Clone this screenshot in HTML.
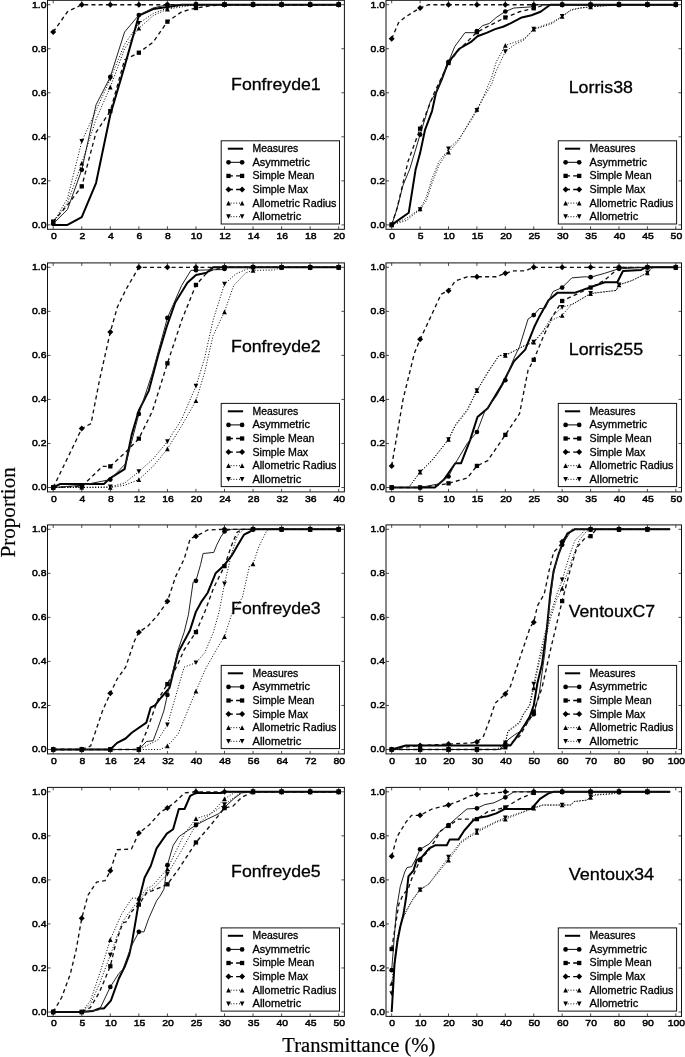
<!DOCTYPE html>
<html><head><meta charset="utf-8"><style>html,body{margin:0;padding:0;background:#fff;width:685px;height:1057px;overflow:hidden}</style></head>
<body><div style="position:relative;width:685px;height:1057px;will-change:transform"><svg width="685" height="1057" viewBox="0 0 685 1057" style="position:absolute;left:0;top:0">
<style>text{font-family:"Liberation Sans",sans-serif;stroke:#000;stroke-width:0.3px}g.tk text{stroke-width:0.5px}text.serif{font-family:"Liberation Serif",serif;stroke-width:0.2px}</style>
<g><clipPath id="clipFonfreyde1"><rect x="47.5" y="0.3" width="296.9" height="229.0"/></clipPath><g clip-path="url(#clipFonfreyde1)"><polyline points="53.21,224.9 67.48,224.9 81.76,217.19 96.03,183.06 110.31,114.8 124.58,66.36 138.85,15.71 153.13,9.11 167.4,6.91 181.68,4.7 195.95,4.7 210.22,4.7 224.5,4.7 238.77,4.7 253.05,4.7 267.32,4.7 281.59,4.7 295.87,4.7 310.14,4.7 324.42,4.7 338.69,4.7" fill="none" stroke="#000" stroke-width="2.0" stroke-linejoin="round"/><polyline points="53.21,223.8 67.48,209.48 81.76,169.85 96.03,104.89 110.31,76.93 124.58,32.01 138.85,15.05 153.13,8.01 167.4,4.7 181.68,4.7 195.95,4.7 210.22,4.7 224.5,4.7 238.77,4.7 253.05,4.7 267.32,4.7 281.59,4.7 295.87,4.7 310.14,4.7 324.42,4.7 338.69,4.7" fill="none" stroke="#222" stroke-width="1.0" stroke-linejoin="round"/><g fill="#000"><circle cx="53.21" cy="223.8" r="2.35"/><circle cx="81.76" cy="169.85" r="2.35"/><circle cx="110.31" cy="76.93" r="2.35"/><circle cx="138.85" cy="15.05" r="2.35"/><circle cx="167.4" cy="4.7" r="2.35"/><circle cx="195.95" cy="4.7" r="2.35"/><circle cx="224.5" cy="4.7" r="2.35"/><circle cx="253.05" cy="4.7" r="2.35"/><circle cx="281.59" cy="4.7" r="2.35"/><circle cx="310.14" cy="4.7" r="2.35"/><circle cx="338.69" cy="4.7" r="2.35"/></g><polyline points="53.21,221.59 67.48,205.08 81.76,186.36 96.03,132.42 110.31,111.06 124.58,59.75 138.85,52.71 153.13,42.14 167.4,21.66 181.68,11.75 195.95,8.01 210.22,5.8 224.5,4.7 238.77,4.7 253.05,4.7 267.32,4.7 281.59,4.7 295.87,4.7 310.14,4.7 324.42,4.7 338.69,4.7" fill="none" stroke="#111" stroke-width="1.35" stroke-dasharray="4 3.2" stroke-linejoin="round"/><g fill="#000"><rect x="51.06" y="219.44" width="4.3" height="4.3"/><rect x="79.61" y="184.21" width="4.3" height="4.3"/><rect x="108.16" y="108.91" width="4.3" height="4.3"/><rect x="136.7" y="50.56" width="4.3" height="4.3"/><rect x="165.25" y="19.51" width="4.3" height="4.3"/><rect x="193.8" y="5.86" width="4.3" height="4.3"/><rect x="222.35" y="2.55" width="4.3" height="4.3"/><rect x="250.9" y="2.55" width="4.3" height="4.3"/><rect x="279.44" y="2.55" width="4.3" height="4.3"/><rect x="307.99" y="2.55" width="4.3" height="4.3"/><rect x="336.54" y="2.55" width="4.3" height="4.3"/></g><polyline points="53.21,32.01 67.48,11.75 81.76,4.7 96.03,4.7 110.31,4.7 124.58,4.7 138.85,4.7 153.13,4.7 167.4,4.7 181.68,4.7 195.95,4.7 210.22,4.7 224.5,4.7 238.77,4.7 253.05,4.7 267.32,4.7 281.59,4.7 295.87,4.7 310.14,4.7 324.42,4.7 338.69,4.7" fill="none" stroke="#111" stroke-width="1.35" stroke-dasharray="4 3.2" stroke-linejoin="round"/><g fill="#000"><path d="M53.21 29.01L56.21 32.01L53.21 35.01L50.21 32.01Z"/><path d="M81.76 1.7L84.76 4.7L81.76 7.7L78.76 4.7Z"/><path d="M110.31 1.7L113.31 4.7L110.31 7.7L107.31 4.7Z"/><path d="M138.85 1.7L141.85 4.7L138.85 7.7L135.85 4.7Z"/><path d="M167.4 1.7L170.4 4.7L167.4 7.7L164.4 4.7Z"/><path d="M195.95 1.7L198.95 4.7L195.95 7.7L192.95 4.7Z"/><path d="M224.5 1.7L227.5 4.7L224.5 7.7L221.5 4.7Z"/><path d="M253.05 1.7L256.05 4.7L253.05 7.7L250.05 4.7Z"/><path d="M281.59 1.7L284.59 4.7L281.59 7.7L278.59 4.7Z"/><path d="M310.14 1.7L313.14 4.7L310.14 7.7L307.14 4.7Z"/><path d="M338.69 1.7L341.69 4.7L338.69 7.7L335.69 4.7Z"/></g><polyline points="53.21,222.69 67.48,202.88 81.76,163.24 96.03,119.2 110.31,87.06 124.58,48.74 138.85,28.26 153.13,15.71 167.4,9.11 181.68,6.91 195.95,4.7 210.22,4.7 224.5,4.7 238.77,4.7 253.05,4.7 267.32,4.7 281.59,4.7 295.87,4.7 310.14,4.7 324.42,4.7 338.69,4.7" fill="none" stroke="#000" stroke-width="1.0" stroke-dasharray="1 1.8" stroke-linejoin="round"/><g fill="#000"><path d="M53.21 220.34L55.56 225.04L50.86 225.04Z"/><path d="M81.76 160.89L84.11 165.59L79.41 165.59Z"/><path d="M110.31 84.71L112.66 89.41L107.96 89.41Z"/><path d="M138.85 25.91L141.2 30.61L136.5 30.61Z"/><path d="M167.4 6.76L169.75 11.46L165.05 11.46Z"/><path d="M195.95 2.35L198.3 7.05L193.6 7.05Z"/><path d="M224.5 2.35L226.85 7.05L222.15 7.05Z"/><path d="M253.05 2.35L255.4 7.05L250.7 7.05Z"/><path d="M281.59 2.35L283.94 7.05L279.24 7.05Z"/><path d="M310.14 2.35L312.49 7.05L307.79 7.05Z"/><path d="M338.69 2.35L341.04 7.05L336.34 7.05Z"/></g><polyline points="53.21,222.69 67.48,198.47 81.76,141.44 96.03,110.4 110.31,78.91 124.58,44.34 138.85,23.42 153.13,13.51 167.4,8.01 181.68,5.8 195.95,4.7 210.22,4.7 224.5,4.7 238.77,4.7 253.05,4.7 267.32,4.7 281.59,4.7 295.87,4.7 310.14,4.7 324.42,4.7 338.69,4.7" fill="none" stroke="#000" stroke-width="1.0" stroke-dasharray="1 1.8" stroke-linejoin="round"/><g fill="#000"><path d="M53.21 225.04L55.56 220.34L50.86 220.34Z"/><path d="M81.76 143.79L84.11 139.09L79.41 139.09Z"/><path d="M110.31 81.26L112.66 76.56L107.96 76.56Z"/><path d="M138.85 25.77L141.2 21.07L136.5 21.07Z"/><path d="M167.4 10.36L169.75 5.66L165.05 5.66Z"/><path d="M195.95 7.05L198.3 2.35L193.6 2.35Z"/><path d="M224.5 7.05L226.85 2.35L222.15 2.35Z"/><path d="M253.05 7.05L255.4 2.35L250.7 2.35Z"/><path d="M281.59 7.05L283.94 2.35L279.24 2.35Z"/><path d="M310.14 7.05L312.49 2.35L307.79 2.35Z"/><path d="M338.69 7.05L341.04 2.35L336.34 2.35Z"/></g></g><rect x="47.5" y="0.3" width="296.9" height="229.0" fill="none" stroke="#111" stroke-width="1"/><path d="M53.21 229.3v-3M53.21 0.3v3M81.76 229.3v-3M81.76 0.3v3M110.31 229.3v-3M110.31 0.3v3M138.85 229.3v-3M138.85 0.3v3M167.4 229.3v-3M167.4 0.3v3M195.95 229.3v-3M195.95 0.3v3M224.5 229.3v-3M224.5 0.3v3M253.05 229.3v-3M253.05 0.3v3M281.59 229.3v-3M281.59 0.3v3M310.14 229.3v-3M310.14 0.3v3M338.69 229.3v-3M338.69 0.3v3M47.5 224.9h3M344.4 224.9h-3M47.5 180.86h3M344.4 180.86h-3M47.5 136.82h3M344.4 136.82h-3M47.5 92.78h3M344.4 92.78h-3M47.5 48.74h3M344.4 48.74h-3M47.5 4.7h3M344.4 4.7h-3" stroke="#222" stroke-width="0.8" fill="none"/><g font-size="9.9" fill="#000" class="tk"><text x="53.81" y="239.1" text-anchor="middle" textLength="5.79" lengthAdjust="spacingAndGlyphs">0</text><text x="82.36" y="239.1" text-anchor="middle" textLength="5.79" lengthAdjust="spacingAndGlyphs">2</text><text x="110.91" y="239.1" text-anchor="middle" textLength="5.79" lengthAdjust="spacingAndGlyphs">4</text><text x="139.45" y="239.1" text-anchor="middle" textLength="5.79" lengthAdjust="spacingAndGlyphs">6</text><text x="168" y="239.1" text-anchor="middle" textLength="5.79" lengthAdjust="spacingAndGlyphs">8</text><text x="196.55" y="239.1" text-anchor="middle" textLength="11.58" lengthAdjust="spacingAndGlyphs">10</text><text x="225.1" y="239.1" text-anchor="middle" textLength="11.58" lengthAdjust="spacingAndGlyphs">12</text><text x="253.65" y="239.1" text-anchor="middle" textLength="11.58" lengthAdjust="spacingAndGlyphs">14</text><text x="282.19" y="239.1" text-anchor="middle" textLength="11.58" lengthAdjust="spacingAndGlyphs">16</text><text x="310.74" y="239.1" text-anchor="middle" textLength="11.58" lengthAdjust="spacingAndGlyphs">18</text><text x="339.29" y="239.1" text-anchor="middle" textLength="11.58" lengthAdjust="spacingAndGlyphs">20</text><text x="46.5" y="227.7" text-anchor="end" textLength="14.47" lengthAdjust="spacingAndGlyphs">0.0</text><text x="46.5" y="183.66" text-anchor="end" textLength="14.47" lengthAdjust="spacingAndGlyphs">0.2</text><text x="46.5" y="139.62" text-anchor="end" textLength="14.47" lengthAdjust="spacingAndGlyphs">0.4</text><text x="46.5" y="95.58" text-anchor="end" textLength="14.47" lengthAdjust="spacingAndGlyphs">0.6</text><text x="46.5" y="51.54" text-anchor="end" textLength="14.47" lengthAdjust="spacingAndGlyphs">0.8</text><text x="46.5" y="7.5" text-anchor="end" textLength="14.47" lengthAdjust="spacingAndGlyphs">1.0</text></g><text x="231.09" y="89.5" font-size="16.6" fill="#000" textLength="89.63" lengthAdjust="spacingAndGlyphs">Fonfreyde1</text><rect x="221.2" y="140.8" width="118.3" height="83.2" fill="#fff" stroke="#111" stroke-width="1"/><path d="M227.8 148.7H243.1" stroke="#000" stroke-width="2.0"/><text x="252.5" y="152.1" font-size="10.3" fill="#000" textLength="45.8" lengthAdjust="spacingAndGlyphs">Measures</text><path d="M227.8 162.3H243.1" stroke="#000" stroke-width="1.0"/><g fill="#000"><circle cx="228.5" cy="162.3" r="2.35"/><circle cx="242.1" cy="162.3" r="2.35"/></g><text x="252.5" y="165.7" font-size="10.3" fill="#000" textLength="57.52" lengthAdjust="spacingAndGlyphs">Asymmetric</text><path d="M227.8 175.9H243.1" stroke="#000" stroke-width="1.35" stroke-dasharray="4 3.2" stroke-dashoffset="6.1"/><g fill="#000"><rect x="226.35" y="173.75" width="4.3" height="4.3"/><rect x="239.95" y="173.75" width="4.3" height="4.3"/></g><text x="252.5" y="179.3" font-size="10.3" fill="#000" textLength="61.99" lengthAdjust="spacingAndGlyphs">Simple Mean</text><path d="M227.8 189.5H243.1" stroke="#000" stroke-width="1.35" stroke-dasharray="4 3.2" stroke-dashoffset="6.1"/><g fill="#000"><path d="M228.5 186.5L231.5 189.5L228.5 192.5L225.5 189.5Z"/><path d="M242.1 186.5L245.1 189.5L242.1 192.5L239.1 189.5Z"/></g><text x="252.5" y="192.9" font-size="10.3" fill="#000" textLength="55.68" lengthAdjust="spacingAndGlyphs">Simple Max</text><path d="M227.8 203.1H243.1" stroke="#000" stroke-width="1.0" stroke-dasharray="1 1.8"/><g fill="#000"><path d="M228.5 200.75L230.85 205.45L226.15 205.45Z"/><path d="M242.1 200.75L244.45 205.45L239.75 205.45Z"/></g><text x="252.5" y="206.5" font-size="10.3" fill="#000" textLength="83.93" lengthAdjust="spacingAndGlyphs">Allometric Radius</text><path d="M227.8 216.7H243.1" stroke="#000" stroke-width="1.0" stroke-dasharray="1 1.8"/><g fill="#000"><path d="M228.5 219.05L230.85 214.35L226.15 214.35Z"/><path d="M242.1 219.05L244.45 214.35L239.75 214.35Z"/></g><text x="252.5" y="220.1" font-size="10.3" fill="#000" textLength="48.69" lengthAdjust="spacingAndGlyphs">Allometric</text></g>
<g><clipPath id="clipLorris38"><rect x="386.0" y="0.3" width="295.5" height="229.0"/></clipPath><g clip-path="url(#clipLorris38)"><polyline points="391.68,224.9 408.73,212.79 415.55,169.85 420.1,153.11 424.93,130.21 432.03,111.06 436.01,92.78 441.69,79.57 447.94,62.83 459.31,48.74 470.67,42.14 477.49,36.19 487.15,32.67 495.11,29.15 503.06,26.72 510.45,23.42 521.82,17.48 531.48,15.27 540.57,11.75 550.23,4.7 675.82,4.7" fill="none" stroke="#000" stroke-width="2.0" stroke-linejoin="round"/><polyline points="391.68,224.9 396.8,209.48 403.05,185.26 409.87,168.75 420.1,134.62 430.32,101.59 436.01,92.78 448.51,61.95 454.76,46.54 464.99,32.67 475.22,32.67 482.61,25.62 489.43,23.42 496.24,17.48 504.77,11.75 513.86,8.01 530.91,6.91 536.59,4.7 675.82,4.7" fill="none" stroke="#222" stroke-width="1.0" stroke-linejoin="round"/><g fill="#000"><circle cx="391.68" cy="224.9" r="2.35"/><circle cx="420.1" cy="134.62" r="2.35"/><circle cx="448.51" cy="61.95" r="2.35"/><circle cx="476.92" cy="31.04" r="2.35"/><circle cx="505.34" cy="11.52" r="2.35"/><circle cx="533.75" cy="5.8" r="2.35"/><circle cx="562.16" cy="4.7" r="2.35"/><circle cx="590.58" cy="4.7" r="2.35"/><circle cx="618.99" cy="4.7" r="2.35"/><circle cx="647.4" cy="4.7" r="2.35"/><circle cx="675.82" cy="4.7" r="2.35"/></g><polyline points="391.68,224.9 397.37,207.28 408.16,161.04 420.1,128.67 434.3,92.78 448.51,63.05 459.88,48.74 476.92,32.23 489.43,25.62 505.34,17.48 519.54,11.75 533.75,8.23 545.12,4.7 675.82,4.7" fill="none" stroke="#111" stroke-width="1.35" stroke-dasharray="4 3.2" stroke-linejoin="round"/><g fill="#000"><rect x="389.53" y="222.75" width="4.3" height="4.3"/><rect x="417.95" y="126.52" width="4.3" height="4.3"/><rect x="446.36" y="60.9" width="4.3" height="4.3"/><rect x="474.77" y="30.08" width="4.3" height="4.3"/><rect x="503.19" y="15.33" width="4.3" height="4.3"/><rect x="531.6" y="6.08" width="4.3" height="4.3"/><rect x="560.01" y="2.55" width="4.3" height="4.3"/><rect x="588.43" y="2.55" width="4.3" height="4.3"/><rect x="616.84" y="2.55" width="4.3" height="4.3"/><rect x="645.25" y="2.55" width="4.3" height="4.3"/><rect x="673.67" y="2.55" width="4.3" height="4.3"/></g><polyline points="391.68,38.83 398.5,22.76 404.75,17.48 411.57,13.07 420.1,8.01 428.62,4.7 675.82,4.7" fill="none" stroke="#111" stroke-width="1.35" stroke-dasharray="4 3.2" stroke-linejoin="round"/><g fill="#000"><path d="M391.68 35.83L394.68 38.83L391.68 41.83L388.68 38.83Z"/><path d="M420.1 5.01L423.1 8.01L420.1 11.01L417.1 8.01Z"/><path d="M448.51 1.7L451.51 4.7L448.51 7.7L445.51 4.7Z"/><path d="M476.92 1.7L479.92 4.7L476.92 7.7L473.92 4.7Z"/><path d="M505.34 1.7L508.34 4.7L505.34 7.7L502.34 4.7Z"/><path d="M533.75 1.7L536.75 4.7L533.75 7.7L530.75 4.7Z"/><path d="M562.16 1.7L565.16 4.7L562.16 7.7L559.16 4.7Z"/><path d="M590.58 1.7L593.58 4.7L590.58 7.7L587.58 4.7Z"/><path d="M618.99 1.7L621.99 4.7L618.99 7.7L615.99 4.7Z"/><path d="M647.4 1.7L650.4 4.7L647.4 7.7L644.4 4.7Z"/><path d="M675.82 1.7L678.82 4.7L675.82 7.7L672.82 4.7Z"/></g><polyline points="391.68,224.9 406.46,218.29 420.1,208.82 426.35,196.93 432.03,178.66 438.85,161.7 444.53,154.43 448.51,152.23 458.74,140.56 470.67,119.2 476.92,109.52 482.61,98.29 491.7,77.37 496.24,61.95 505.34,45.44 515,42.14 524.09,38.83 533.75,29.15 542.84,25.62 552.5,22.1 562.16,16.37 571.26,9.55 580.35,8.01 590.58,6.91 618.99,4.7 675.82,4.7" fill="none" stroke="#000" stroke-width="1.0" stroke-dasharray="1 1.8" stroke-linejoin="round"/><g fill="#000"><path d="M391.68 222.55L394.03 227.25L389.33 227.25Z"/><path d="M420.1 206.47L422.45 211.17L417.75 211.17Z"/><path d="M448.51 149.88L450.86 154.58L446.16 154.58Z"/><path d="M476.92 107.17L479.27 111.87L474.57 111.87Z"/><path d="M505.34 43.09L507.69 47.79L502.99 47.79Z"/><path d="M533.75 26.8L536.1 31.5L531.4 31.5Z"/><path d="M562.16 14.02L564.51 18.72L559.81 18.72Z"/><path d="M590.58 4.56L592.93 9.26L588.23 9.26Z"/><path d="M618.99 2.35L621.34 7.05L616.64 7.05Z"/><path d="M647.4 2.35L649.75 7.05L645.05 7.05Z"/><path d="M675.82 2.35L678.17 7.05L673.47 7.05Z"/></g><polyline points="391.68,224.9 406.46,220.49 420.1,209.48 426.35,200.68 432.03,183.06 438.85,165.44 444.53,156.64 448.51,148.93 458.74,139.02 470.67,121.41 476.92,110.4 482.61,99.39 491.7,83.97 496.24,70.76 505.34,51.6 515,44.34 524.09,39.93 533.75,29.15 542.84,26.72 552.5,23.42 562.16,16.37 571.26,10.21 580.35,8.01 590.58,6.91 618.99,4.7 675.82,4.7" fill="none" stroke="#000" stroke-width="1.0" stroke-dasharray="1 1.8" stroke-linejoin="round"/><g fill="#000"><path d="M391.68 227.25L394.03 222.55L389.33 222.55Z"/><path d="M420.1 211.83L422.45 207.13L417.75 207.13Z"/><path d="M448.51 151.28L450.86 146.58L446.16 146.58Z"/><path d="M476.92 112.75L479.27 108.05L474.57 108.05Z"/><path d="M505.34 53.95L507.69 49.25L502.99 49.25Z"/><path d="M533.75 31.5L536.1 26.8L531.4 26.8Z"/><path d="M562.16 18.72L564.51 14.02L559.81 14.02Z"/><path d="M590.58 9.26L592.93 4.56L588.23 4.56Z"/><path d="M618.99 7.05L621.34 2.35L616.64 2.35Z"/><path d="M647.4 7.05L649.75 2.35L645.05 2.35Z"/><path d="M675.82 7.05L678.17 2.35L673.47 2.35Z"/></g></g><rect x="386.0" y="0.3" width="295.5" height="229.0" fill="none" stroke="#111" stroke-width="1"/><path d="M391.68 229.3v-3M391.68 0.3v3M420.1 229.3v-3M420.1 0.3v3M448.51 229.3v-3M448.51 0.3v3M476.92 229.3v-3M476.92 0.3v3M505.34 229.3v-3M505.34 0.3v3M533.75 229.3v-3M533.75 0.3v3M562.16 229.3v-3M562.16 0.3v3M590.58 229.3v-3M590.58 0.3v3M618.99 229.3v-3M618.99 0.3v3M647.4 229.3v-3M647.4 0.3v3M675.82 229.3v-3M675.82 0.3v3M386.0 224.9h3M681.5 224.9h-3M386.0 180.86h3M681.5 180.86h-3M386.0 136.82h3M681.5 136.82h-3M386.0 92.78h3M681.5 92.78h-3M386.0 48.74h3M681.5 48.74h-3M386.0 4.7h3M681.5 4.7h-3" stroke="#222" stroke-width="0.8" fill="none"/><g font-size="9.9" fill="#000" class="tk"><text x="392.28" y="239.1" text-anchor="middle" textLength="5.79" lengthAdjust="spacingAndGlyphs">0</text><text x="420.7" y="239.1" text-anchor="middle" textLength="5.79" lengthAdjust="spacingAndGlyphs">5</text><text x="449.11" y="239.1" text-anchor="middle" textLength="11.58" lengthAdjust="spacingAndGlyphs">10</text><text x="477.52" y="239.1" text-anchor="middle" textLength="11.58" lengthAdjust="spacingAndGlyphs">15</text><text x="505.94" y="239.1" text-anchor="middle" textLength="11.58" lengthAdjust="spacingAndGlyphs">20</text><text x="534.35" y="239.1" text-anchor="middle" textLength="11.58" lengthAdjust="spacingAndGlyphs">25</text><text x="562.76" y="239.1" text-anchor="middle" textLength="11.58" lengthAdjust="spacingAndGlyphs">30</text><text x="591.18" y="239.1" text-anchor="middle" textLength="11.58" lengthAdjust="spacingAndGlyphs">35</text><text x="619.59" y="239.1" text-anchor="middle" textLength="11.58" lengthAdjust="spacingAndGlyphs">40</text><text x="648" y="239.1" text-anchor="middle" textLength="11.58" lengthAdjust="spacingAndGlyphs">45</text><text x="676.42" y="239.1" text-anchor="middle" textLength="11.58" lengthAdjust="spacingAndGlyphs">50</text><text x="385" y="227.7" text-anchor="end" textLength="14.47" lengthAdjust="spacingAndGlyphs">0.0</text><text x="385" y="183.66" text-anchor="end" textLength="14.47" lengthAdjust="spacingAndGlyphs">0.2</text><text x="385" y="139.62" text-anchor="end" textLength="14.47" lengthAdjust="spacingAndGlyphs">0.4</text><text x="385" y="95.58" text-anchor="end" textLength="14.47" lengthAdjust="spacingAndGlyphs">0.6</text><text x="385" y="51.54" text-anchor="end" textLength="14.47" lengthAdjust="spacingAndGlyphs">0.8</text><text x="385" y="7.5" text-anchor="end" textLength="14.47" lengthAdjust="spacingAndGlyphs">1.0</text></g><text x="568.72" y="92.7" font-size="16.6" fill="#000" textLength="64.24" lengthAdjust="spacingAndGlyphs">Lorris38</text><rect x="558.3" y="140.8" width="118.3" height="83.2" fill="#fff" stroke="#111" stroke-width="1"/><path d="M564.9 148.7H580.2" stroke="#000" stroke-width="2.0"/><text x="589.6" y="152.1" font-size="10.3" fill="#000" textLength="45.8" lengthAdjust="spacingAndGlyphs">Measures</text><path d="M564.9 162.3H580.2" stroke="#000" stroke-width="1.0"/><g fill="#000"><circle cx="565.6" cy="162.3" r="2.35"/><circle cx="579.2" cy="162.3" r="2.35"/></g><text x="589.6" y="165.7" font-size="10.3" fill="#000" textLength="57.52" lengthAdjust="spacingAndGlyphs">Asymmetric</text><path d="M564.9 175.9H580.2" stroke="#000" stroke-width="1.35" stroke-dasharray="4 3.2" stroke-dashoffset="6.1"/><g fill="#000"><rect x="563.45" y="173.75" width="4.3" height="4.3"/><rect x="577.05" y="173.75" width="4.3" height="4.3"/></g><text x="589.6" y="179.3" font-size="10.3" fill="#000" textLength="61.99" lengthAdjust="spacingAndGlyphs">Simple Mean</text><path d="M564.9 189.5H580.2" stroke="#000" stroke-width="1.35" stroke-dasharray="4 3.2" stroke-dashoffset="6.1"/><g fill="#000"><path d="M565.6 186.5L568.6 189.5L565.6 192.5L562.6 189.5Z"/><path d="M579.2 186.5L582.2 189.5L579.2 192.5L576.2 189.5Z"/></g><text x="589.6" y="192.9" font-size="10.3" fill="#000" textLength="55.68" lengthAdjust="spacingAndGlyphs">Simple Max</text><path d="M564.9 203.1H580.2" stroke="#000" stroke-width="1.0" stroke-dasharray="1 1.8"/><g fill="#000"><path d="M565.6 200.75L567.95 205.45L563.25 205.45Z"/><path d="M579.2 200.75L581.55 205.45L576.85 205.45Z"/></g><text x="589.6" y="206.5" font-size="10.3" fill="#000" textLength="83.93" lengthAdjust="spacingAndGlyphs">Allometric Radius</text><path d="M564.9 216.7H580.2" stroke="#000" stroke-width="1.0" stroke-dasharray="1 1.8"/><g fill="#000"><path d="M565.6 219.05L567.95 214.35L563.25 214.35Z"/><path d="M579.2 219.05L581.55 214.35L576.85 214.35Z"/></g><text x="589.6" y="220.1" font-size="10.3" fill="#000" textLength="48.69" lengthAdjust="spacingAndGlyphs">Allometric</text></g>
<g><clipPath id="clipFonfreyde2"><rect x="47.5" y="262.9" width="296.9" height="229.0"/></clipPath><g clip-path="url(#clipFonfreyde2)"><polyline points="53.21,487.5 60.35,483.97 103.88,483.97 110.31,478.03 124.58,469.22 131.72,434.65 138.85,410.43 148.85,390.61 158.12,355.38 166.69,326.76 175.25,302.53 187.39,282.72 195.95,275.01 206.66,272.81 213.08,267.3 338.69,267.3" fill="none" stroke="#000" stroke-width="2.0" stroke-linejoin="round"/><polyline points="53.21,487.5 81.76,485.29 110.31,479.57 126.01,463.27 138.85,413.95 152.41,373 167.4,317.95 181.68,285.36 190.95,270.39 223.78,269.51 226.64,267.3 338.69,267.3" fill="none" stroke="#222" stroke-width="1.0" stroke-linejoin="round"/><g fill="#000"><circle cx="53.21" cy="487.5" r="2.35"/><circle cx="81.76" cy="485.29" r="2.35"/><circle cx="110.31" cy="479.57" r="2.35"/><circle cx="138.85" cy="413.95" r="2.35"/><circle cx="167.4" cy="317.95" r="2.35"/><circle cx="195.95" cy="270.25" r="2.35"/><circle cx="224.5" cy="268.96" r="2.35"/><circle cx="253.05" cy="267.3" r="2.35"/><circle cx="281.59" cy="267.3" r="2.35"/><circle cx="310.14" cy="267.3" r="2.35"/><circle cx="338.69" cy="267.3" r="2.35"/></g><polyline points="53.21,487.5 81.76,486.4 102.46,466.36 110.31,466.36 126.01,451.82 138.85,438.61 152.41,411.09 167.4,363.31 181.68,320.37 195.95,284.92 205.94,273.91 210.22,270.83 224.5,267.3 338.69,267.3" fill="none" stroke="#111" stroke-width="1.35" stroke-dasharray="4 3.2" stroke-linejoin="round"/><g fill="#000"><rect x="51.06" y="485.35" width="4.3" height="4.3"/><rect x="79.61" y="484.25" width="4.3" height="4.3"/><rect x="108.16" y="464.21" width="4.3" height="4.3"/><rect x="136.7" y="436.46" width="4.3" height="4.3"/><rect x="165.25" y="361.16" width="4.3" height="4.3"/><rect x="193.8" y="282.77" width="4.3" height="4.3"/><rect x="222.35" y="265.15" width="4.3" height="4.3"/><rect x="250.9" y="265.15" width="4.3" height="4.3"/><rect x="279.44" y="265.15" width="4.3" height="4.3"/><rect x="307.99" y="265.15" width="4.3" height="4.3"/><rect x="336.54" y="265.15" width="4.3" height="4.3"/></g><polyline points="53.21,487.5 74.62,443.46 81.76,428.48 91.04,423.64 99.6,379.6 110.31,332.04 117.44,306.94 126.01,289.32 138.85,267.3 338.69,267.3" fill="none" stroke="#111" stroke-width="1.35" stroke-dasharray="4 3.2" stroke-linejoin="round"/><g fill="#000"><path d="M53.21 484.5L56.21 487.5L53.21 490.5L50.21 487.5Z"/><path d="M81.76 425.48L84.76 428.48L81.76 431.48L78.76 428.48Z"/><path d="M110.31 329.04L113.31 332.04L110.31 335.04L107.31 332.04Z"/><path d="M138.85 264.3L141.85 267.3L138.85 270.3L135.85 267.3Z"/><path d="M167.4 264.3L170.4 267.3L167.4 270.3L164.4 267.3Z"/><path d="M195.95 264.3L198.95 267.3L195.95 270.3L192.95 267.3Z"/><path d="M224.5 264.3L227.5 267.3L224.5 270.3L221.5 267.3Z"/><path d="M253.05 264.3L256.05 267.3L253.05 270.3L250.05 267.3Z"/><path d="M281.59 264.3L284.59 267.3L281.59 270.3L278.59 267.3Z"/><path d="M310.14 264.3L313.14 267.3L310.14 270.3L307.14 267.3Z"/><path d="M338.69 264.3L341.69 267.3L338.69 270.3L335.69 267.3Z"/></g><polyline points="53.21,487.5 110.31,487.5 124.58,485.29 138.85,479.57 153.13,466.36 167.4,448.96 181.68,425.84 195.95,400.74 204.51,373 213.08,335.56 224.5,311.78 233.78,285.36 245.91,272.81 253.05,270.39 274.46,269.95 281.59,267.3 338.69,267.3" fill="none" stroke="#000" stroke-width="1.0" stroke-dasharray="1 1.8" stroke-linejoin="round"/><g fill="#000"><path d="M53.21 485.15L55.56 489.85L50.86 489.85Z"/><path d="M81.76 485.15L84.11 489.85L79.41 489.85Z"/><path d="M110.31 485.15L112.66 489.85L107.96 489.85Z"/><path d="M138.85 477.22L141.2 481.92L136.5 481.92Z"/><path d="M167.4 446.61L169.75 451.31L165.05 451.31Z"/><path d="M195.95 398.39L198.3 403.09L193.6 403.09Z"/><path d="M224.5 309.43L226.85 314.13L222.15 314.13Z"/><path d="M253.05 268.04L255.4 272.74L250.7 272.74Z"/><path d="M281.59 264.95L283.94 269.65L279.24 269.65Z"/><path d="M310.14 264.95L312.49 269.65L307.79 269.65Z"/><path d="M338.69 264.95L341.04 269.65L336.34 269.65Z"/></g><polyline points="53.21,487.5 110.31,486.84 124.58,483.09 138.85,471.64 153.13,458.87 167.4,441.7 181.68,419.24 195.95,386.21 204.51,358.46 213.08,320.15 224.5,284.04 235.92,273.91 245.91,269.51 253.05,267.3 338.69,267.3" fill="none" stroke="#000" stroke-width="1.0" stroke-dasharray="1 1.8" stroke-linejoin="round"/><g fill="#000"><path d="M53.21 489.85L55.56 485.15L50.86 485.15Z"/><path d="M81.76 489.52L84.11 484.82L79.41 484.82Z"/><path d="M110.31 489.19L112.66 484.49L107.96 484.49Z"/><path d="M138.85 473.99L141.2 469.29L136.5 469.29Z"/><path d="M167.4 444.05L169.75 439.35L165.05 439.35Z"/><path d="M195.95 388.56L198.3 383.86L193.6 383.86Z"/><path d="M224.5 286.39L226.85 281.69L222.15 281.69Z"/><path d="M253.05 269.65L255.4 264.95L250.7 264.95Z"/><path d="M281.59 269.65L283.94 264.95L279.24 264.95Z"/><path d="M310.14 269.65L312.49 264.95L307.79 264.95Z"/><path d="M338.69 269.65L341.04 264.95L336.34 264.95Z"/></g></g><rect x="47.5" y="262.9" width="296.9" height="229.0" fill="none" stroke="#111" stroke-width="1"/><path d="M53.21 491.9v-3M53.21 262.9v3M81.76 491.9v-3M81.76 262.9v3M110.31 491.9v-3M110.31 262.9v3M138.85 491.9v-3M138.85 262.9v3M167.4 491.9v-3M167.4 262.9v3M195.95 491.9v-3M195.95 262.9v3M224.5 491.9v-3M224.5 262.9v3M253.05 491.9v-3M253.05 262.9v3M281.59 491.9v-3M281.59 262.9v3M310.14 491.9v-3M310.14 262.9v3M338.69 491.9v-3M338.69 262.9v3M47.5 487.5h3M344.4 487.5h-3M47.5 443.46h3M344.4 443.46h-3M47.5 399.42h3M344.4 399.42h-3M47.5 355.38h3M344.4 355.38h-3M47.5 311.34h3M344.4 311.34h-3M47.5 267.3h3M344.4 267.3h-3" stroke="#222" stroke-width="0.8" fill="none"/><g font-size="9.9" fill="#000" class="tk"><text x="53.81" y="501.7" text-anchor="middle" textLength="5.79" lengthAdjust="spacingAndGlyphs">0</text><text x="82.36" y="501.7" text-anchor="middle" textLength="5.79" lengthAdjust="spacingAndGlyphs">4</text><text x="110.91" y="501.7" text-anchor="middle" textLength="5.79" lengthAdjust="spacingAndGlyphs">8</text><text x="139.45" y="501.7" text-anchor="middle" textLength="11.58" lengthAdjust="spacingAndGlyphs">12</text><text x="168" y="501.7" text-anchor="middle" textLength="11.58" lengthAdjust="spacingAndGlyphs">16</text><text x="196.55" y="501.7" text-anchor="middle" textLength="11.58" lengthAdjust="spacingAndGlyphs">20</text><text x="225.1" y="501.7" text-anchor="middle" textLength="11.58" lengthAdjust="spacingAndGlyphs">24</text><text x="253.65" y="501.7" text-anchor="middle" textLength="11.58" lengthAdjust="spacingAndGlyphs">28</text><text x="282.19" y="501.7" text-anchor="middle" textLength="11.58" lengthAdjust="spacingAndGlyphs">32</text><text x="310.74" y="501.7" text-anchor="middle" textLength="11.58" lengthAdjust="spacingAndGlyphs">36</text><text x="339.29" y="501.7" text-anchor="middle" textLength="11.58" lengthAdjust="spacingAndGlyphs">40</text><text x="46.5" y="490.3" text-anchor="end" textLength="14.47" lengthAdjust="spacingAndGlyphs">0.0</text><text x="46.5" y="446.26" text-anchor="end" textLength="14.47" lengthAdjust="spacingAndGlyphs">0.2</text><text x="46.5" y="402.22" text-anchor="end" textLength="14.47" lengthAdjust="spacingAndGlyphs">0.4</text><text x="46.5" y="358.18" text-anchor="end" textLength="14.47" lengthAdjust="spacingAndGlyphs">0.6</text><text x="46.5" y="314.14" text-anchor="end" textLength="14.47" lengthAdjust="spacingAndGlyphs">0.8</text><text x="46.5" y="270.1" text-anchor="end" textLength="14.47" lengthAdjust="spacingAndGlyphs">1.0</text></g><text x="231.09" y="352.1" font-size="16.6" fill="#000" textLength="89.63" lengthAdjust="spacingAndGlyphs">Fonfreyde2</text><rect x="221.2" y="403.4" width="118.3" height="83.2" fill="#fff" stroke="#111" stroke-width="1"/><path d="M227.8 411.3H243.1" stroke="#000" stroke-width="2.0"/><text x="252.5" y="414.7" font-size="10.3" fill="#000" textLength="45.8" lengthAdjust="spacingAndGlyphs">Measures</text><path d="M227.8 424.9H243.1" stroke="#000" stroke-width="1.0"/><g fill="#000"><circle cx="228.5" cy="424.9" r="2.35"/><circle cx="242.1" cy="424.9" r="2.35"/></g><text x="252.5" y="428.3" font-size="10.3" fill="#000" textLength="57.52" lengthAdjust="spacingAndGlyphs">Asymmetric</text><path d="M227.8 438.5H243.1" stroke="#000" stroke-width="1.35" stroke-dasharray="4 3.2" stroke-dashoffset="6.1"/><g fill="#000"><rect x="226.35" y="436.35" width="4.3" height="4.3"/><rect x="239.95" y="436.35" width="4.3" height="4.3"/></g><text x="252.5" y="441.9" font-size="10.3" fill="#000" textLength="61.99" lengthAdjust="spacingAndGlyphs">Simple Mean</text><path d="M227.8 452.1H243.1" stroke="#000" stroke-width="1.35" stroke-dasharray="4 3.2" stroke-dashoffset="6.1"/><g fill="#000"><path d="M228.5 449.1L231.5 452.1L228.5 455.1L225.5 452.1Z"/><path d="M242.1 449.1L245.1 452.1L242.1 455.1L239.1 452.1Z"/></g><text x="252.5" y="455.5" font-size="10.3" fill="#000" textLength="55.68" lengthAdjust="spacingAndGlyphs">Simple Max</text><path d="M227.8 465.7H243.1" stroke="#000" stroke-width="1.0" stroke-dasharray="1 1.8"/><g fill="#000"><path d="M228.5 463.35L230.85 468.05L226.15 468.05Z"/><path d="M242.1 463.35L244.45 468.05L239.75 468.05Z"/></g><text x="252.5" y="469.1" font-size="10.3" fill="#000" textLength="83.93" lengthAdjust="spacingAndGlyphs">Allometric Radius</text><path d="M227.8 479.3H243.1" stroke="#000" stroke-width="1.0" stroke-dasharray="1 1.8"/><g fill="#000"><path d="M228.5 481.65L230.85 476.95L226.15 476.95Z"/><path d="M242.1 481.65L244.45 476.95L239.75 476.95Z"/></g><text x="252.5" y="482.7" font-size="10.3" fill="#000" textLength="48.69" lengthAdjust="spacingAndGlyphs">Allometric</text></g>
<g><clipPath id="clipLorris255"><rect x="386.0" y="262.9" width="295.5" height="229.0"/></clipPath><g clip-path="url(#clipLorris255)"><polyline points="391.68,487.5 434.87,487.5 443.96,479.57 455.33,463.27 461.01,463.27 470.1,440.15 477.49,417.03 487.72,408.23 501.93,384.67 513.86,361.33 525.23,349.66 534.32,326.76 539.43,316.41 548.52,300.33 557.62,292.63 575.23,292.63 584.33,289.32 604.78,282.28 617.29,282.28 622.97,271.05 641.15,269.95 645.7,267.3 675.82,267.3" fill="none" stroke="#000" stroke-width="2.0" stroke-linejoin="round"/><polyline points="391.68,487.5 420.1,487.5 438.28,483.97 448.51,476.49 455.33,463.27 467.26,443.46 476.92,432.01 484.88,411.09 496.24,396.34 505.34,380.26 513.86,358.46 519.54,346.57 528.07,319.05 533.75,315.09 539.43,308.48 545.12,308.48 553.07,291.52 562.16,287.56 571.82,277.87 584.89,276.77 590.58,277.21 604.78,273.25 618.42,268.85 647.4,267.3 675.82,267.3" fill="none" stroke="#222" stroke-width="1.0" stroke-linejoin="round"/><g fill="#000"><circle cx="391.68" cy="487.5" r="2.35"/><circle cx="420.1" cy="487.5" r="2.35"/><circle cx="448.51" cy="476.49" r="2.35"/><circle cx="476.92" cy="432.01" r="2.35"/><circle cx="505.34" cy="380.26" r="2.35"/><circle cx="533.75" cy="315.09" r="2.35"/><circle cx="562.16" cy="287.56" r="2.35"/><circle cx="590.58" cy="277.21" r="2.35"/><circle cx="618.99" cy="268.81" r="2.35"/><circle cx="647.4" cy="267.3" r="2.35"/><circle cx="675.82" cy="267.3" r="2.35"/></g><polyline points="391.68,487.5 420.1,487.5 438.28,485.29 448.51,483.31 467.26,478.03 476.92,465.92 487.72,460.63 505.34,434.87 519.54,413.73 528.07,370.13 533.75,359.78 542.84,337.77 551.93,317.51 562.16,300.99 575.23,294.83 590.58,287.56 604.78,280.07 618.99,267.74 624.67,267.3 675.82,267.3" fill="none" stroke="#111" stroke-width="1.35" stroke-dasharray="4 3.2" stroke-linejoin="round"/><g fill="#000"><rect x="389.53" y="485.35" width="4.3" height="4.3"/><rect x="417.95" y="485.35" width="4.3" height="4.3"/><rect x="446.36" y="481.16" width="4.3" height="4.3"/><rect x="474.77" y="463.77" width="4.3" height="4.3"/><rect x="503.19" y="432.72" width="4.3" height="4.3"/><rect x="531.6" y="357.63" width="4.3" height="4.3"/><rect x="560.01" y="298.84" width="4.3" height="4.3"/><rect x="588.43" y="285.41" width="4.3" height="4.3"/><rect x="616.84" y="265.59" width="4.3" height="4.3"/><rect x="645.25" y="265.15" width="4.3" height="4.3"/><rect x="673.67" y="265.15" width="4.3" height="4.3"/></g><polyline points="391.68,465.92 403.05,399.42 414.41,353.18 420.1,339.31 429.19,320.15 441.12,294.17 448.51,290.64 455.33,280.96 467.26,276.77 496.24,276.77 505.34,273.25 513.86,270.83 525.23,270.83 533.75,267.3 675.82,267.3" fill="none" stroke="#111" stroke-width="1.35" stroke-dasharray="4 3.2" stroke-linejoin="round"/><g fill="#000"><path d="M391.68 462.92L394.68 465.92L391.68 468.92L388.68 465.92Z"/><path d="M420.1 336.31L423.1 339.31L420.1 342.31L417.1 339.31Z"/><path d="M448.51 287.64L451.51 290.64L448.51 293.64L445.51 290.64Z"/><path d="M476.92 273.77L479.92 276.77L476.92 279.77L473.92 276.77Z"/><path d="M505.34 270.25L508.34 273.25L505.34 276.25L502.34 273.25Z"/><path d="M533.75 264.3L536.75 267.3L533.75 270.3L530.75 267.3Z"/><path d="M562.16 264.3L565.16 267.3L562.16 270.3L559.16 267.3Z"/><path d="M590.58 264.3L593.58 267.3L590.58 270.3L587.58 267.3Z"/><path d="M618.99 264.3L621.99 267.3L618.99 270.3L615.99 267.3Z"/><path d="M647.4 264.3L650.4 267.3L647.4 270.3L644.4 267.3Z"/><path d="M675.82 264.3L678.82 267.3L675.82 270.3L672.82 267.3Z"/></g><polyline points="391.68,487.5 408.73,487.5 420.1,472.08 432.03,460.63 448.51,439.49 455.33,425.84 467.26,410.87 476.92,390.61 487.72,373 499.09,355.38 505.34,355.38 516.7,349.66 525.23,345.25 533.75,342.17 542.84,332.26 551.93,320.15 562.16,315.31 571.26,304.74 590.58,293.73 616.15,290.42 618.99,284.92 632.06,280.52 647.4,272.81 653.09,267.3 675.82,267.3" fill="none" stroke="#000" stroke-width="1.0" stroke-dasharray="1 1.8" stroke-linejoin="round"/><g fill="#000"><path d="M391.68 485.15L394.03 489.85L389.33 489.85Z"/><path d="M420.1 469.73L422.45 474.43L417.75 474.43Z"/><path d="M448.51 437.14L450.86 441.84L446.16 441.84Z"/><path d="M476.92 388.26L479.27 392.96L474.57 392.96Z"/><path d="M505.34 353.03L507.69 357.73L502.99 357.73Z"/><path d="M533.75 339.82L536.1 344.52L531.4 344.52Z"/><path d="M562.16 312.96L564.51 317.66L559.81 317.66Z"/><path d="M590.58 291.38L592.93 296.08L588.23 296.08Z"/><path d="M618.99 282.57L621.34 287.27L616.64 287.27Z"/><path d="M647.4 270.46L649.75 275.16L645.05 275.16Z"/><path d="M675.82 264.95L678.17 269.65L673.47 269.65Z"/></g><polyline points="391.68,487.5 408.73,487.5 420.1,472.08 432.03,459.97 448.51,439.49 455.33,424.74 467.26,409.33 476.92,390.61 487.72,371.9 499.09,355.38 505.34,355.38 516.7,349.66 525.23,345.25 533.75,342.17 542.84,331.16 551.93,316.85 562.16,307.38 573.53,303.86 590.58,293.29 616.15,290.42 618.99,284.92 632.06,280.52 647.4,272.81 652.52,267.3 675.82,267.3" fill="none" stroke="#000" stroke-width="1.0" stroke-dasharray="1 1.8" stroke-linejoin="round"/><g fill="#000"><path d="M391.68 489.85L394.03 485.15L389.33 485.15Z"/><path d="M420.1 474.43L422.45 469.73L417.75 469.73Z"/><path d="M448.51 441.84L450.86 437.14L446.16 437.14Z"/><path d="M476.92 392.96L479.27 388.26L474.57 388.26Z"/><path d="M505.34 357.73L507.69 353.03L502.99 353.03Z"/><path d="M533.75 344.52L536.1 339.82L531.4 339.82Z"/><path d="M562.16 309.73L564.51 305.03L559.81 305.03Z"/><path d="M590.58 295.64L592.93 290.94L588.23 290.94Z"/><path d="M618.99 287.27L621.34 282.57L616.64 282.57Z"/><path d="M647.4 275.16L649.75 270.46L645.05 270.46Z"/><path d="M675.82 269.65L678.17 264.95L673.47 264.95Z"/></g></g><rect x="386.0" y="262.9" width="295.5" height="229.0" fill="none" stroke="#111" stroke-width="1"/><path d="M391.68 491.9v-3M391.68 262.9v3M420.1 491.9v-3M420.1 262.9v3M448.51 491.9v-3M448.51 262.9v3M476.92 491.9v-3M476.92 262.9v3M505.34 491.9v-3M505.34 262.9v3M533.75 491.9v-3M533.75 262.9v3M562.16 491.9v-3M562.16 262.9v3M590.58 491.9v-3M590.58 262.9v3M618.99 491.9v-3M618.99 262.9v3M647.4 491.9v-3M647.4 262.9v3M675.82 491.9v-3M675.82 262.9v3M386.0 487.5h3M681.5 487.5h-3M386.0 443.46h3M681.5 443.46h-3M386.0 399.42h3M681.5 399.42h-3M386.0 355.38h3M681.5 355.38h-3M386.0 311.34h3M681.5 311.34h-3M386.0 267.3h3M681.5 267.3h-3" stroke="#222" stroke-width="0.8" fill="none"/><g font-size="9.9" fill="#000" class="tk"><text x="392.28" y="501.7" text-anchor="middle" textLength="5.79" lengthAdjust="spacingAndGlyphs">0</text><text x="420.7" y="501.7" text-anchor="middle" textLength="5.79" lengthAdjust="spacingAndGlyphs">5</text><text x="449.11" y="501.7" text-anchor="middle" textLength="11.58" lengthAdjust="spacingAndGlyphs">10</text><text x="477.52" y="501.7" text-anchor="middle" textLength="11.58" lengthAdjust="spacingAndGlyphs">15</text><text x="505.94" y="501.7" text-anchor="middle" textLength="11.58" lengthAdjust="spacingAndGlyphs">20</text><text x="534.35" y="501.7" text-anchor="middle" textLength="11.58" lengthAdjust="spacingAndGlyphs">25</text><text x="562.76" y="501.7" text-anchor="middle" textLength="11.58" lengthAdjust="spacingAndGlyphs">30</text><text x="591.18" y="501.7" text-anchor="middle" textLength="11.58" lengthAdjust="spacingAndGlyphs">35</text><text x="619.59" y="501.7" text-anchor="middle" textLength="11.58" lengthAdjust="spacingAndGlyphs">40</text><text x="648" y="501.7" text-anchor="middle" textLength="11.58" lengthAdjust="spacingAndGlyphs">45</text><text x="676.42" y="501.7" text-anchor="middle" textLength="11.58" lengthAdjust="spacingAndGlyphs">50</text><text x="385" y="490.3" text-anchor="end" textLength="14.47" lengthAdjust="spacingAndGlyphs">0.0</text><text x="385" y="446.26" text-anchor="end" textLength="14.47" lengthAdjust="spacingAndGlyphs">0.2</text><text x="385" y="402.22" text-anchor="end" textLength="14.47" lengthAdjust="spacingAndGlyphs">0.4</text><text x="385" y="358.18" text-anchor="end" textLength="14.47" lengthAdjust="spacingAndGlyphs">0.6</text><text x="385" y="314.14" text-anchor="end" textLength="14.47" lengthAdjust="spacingAndGlyphs">0.8</text><text x="385" y="270.1" text-anchor="end" textLength="14.47" lengthAdjust="spacingAndGlyphs">1.0</text></g><text x="568.72" y="355.3" font-size="16.6" fill="#000" textLength="74.38" lengthAdjust="spacingAndGlyphs">Lorris255</text><rect x="558.3" y="403.4" width="118.3" height="83.2" fill="#fff" stroke="#111" stroke-width="1"/><path d="M564.9 411.3H580.2" stroke="#000" stroke-width="2.0"/><text x="589.6" y="414.7" font-size="10.3" fill="#000" textLength="45.8" lengthAdjust="spacingAndGlyphs">Measures</text><path d="M564.9 424.9H580.2" stroke="#000" stroke-width="1.0"/><g fill="#000"><circle cx="565.6" cy="424.9" r="2.35"/><circle cx="579.2" cy="424.9" r="2.35"/></g><text x="589.6" y="428.3" font-size="10.3" fill="#000" textLength="57.52" lengthAdjust="spacingAndGlyphs">Asymmetric</text><path d="M564.9 438.5H580.2" stroke="#000" stroke-width="1.35" stroke-dasharray="4 3.2" stroke-dashoffset="6.1"/><g fill="#000"><rect x="563.45" y="436.35" width="4.3" height="4.3"/><rect x="577.05" y="436.35" width="4.3" height="4.3"/></g><text x="589.6" y="441.9" font-size="10.3" fill="#000" textLength="61.99" lengthAdjust="spacingAndGlyphs">Simple Mean</text><path d="M564.9 452.1H580.2" stroke="#000" stroke-width="1.35" stroke-dasharray="4 3.2" stroke-dashoffset="6.1"/><g fill="#000"><path d="M565.6 449.1L568.6 452.1L565.6 455.1L562.6 452.1Z"/><path d="M579.2 449.1L582.2 452.1L579.2 455.1L576.2 452.1Z"/></g><text x="589.6" y="455.5" font-size="10.3" fill="#000" textLength="55.68" lengthAdjust="spacingAndGlyphs">Simple Max</text><path d="M564.9 465.7H580.2" stroke="#000" stroke-width="1.0" stroke-dasharray="1 1.8"/><g fill="#000"><path d="M565.6 463.35L567.95 468.05L563.25 468.05Z"/><path d="M579.2 463.35L581.55 468.05L576.85 468.05Z"/></g><text x="589.6" y="469.1" font-size="10.3" fill="#000" textLength="83.93" lengthAdjust="spacingAndGlyphs">Allometric Radius</text><path d="M564.9 479.3H580.2" stroke="#000" stroke-width="1.0" stroke-dasharray="1 1.8"/><g fill="#000"><path d="M565.6 481.65L567.95 476.95L563.25 476.95Z"/><path d="M579.2 481.65L581.55 476.95L576.85 476.95Z"/></g><text x="589.6" y="482.7" font-size="10.3" fill="#000" textLength="48.69" lengthAdjust="spacingAndGlyphs">Allometric</text></g>
<g><clipPath id="clipFonfreyde3"><rect x="47.5" y="524.9" width="296.9" height="229.0"/></clipPath><g clip-path="url(#clipFonfreyde3)"><polyline points="53.21,749.5 110.31,749.5 117.09,742.89 125.65,738.49 131.72,732.76 146.35,722.63 150.63,707.66 154.91,705.46 160.98,697.75 169.54,687.84 178.11,652.61 189.88,630.59 195.95,611.66 201.66,601.31 207.73,592.72 215.58,573.34 224.5,564.98 231.64,555.73 237.7,545.16 244.12,534.59 250.19,531.51 253.05,529.3 338.69,529.3" fill="none" stroke="#000" stroke-width="2.0" stroke-linejoin="round"/><polyline points="53.21,749.5 138.85,749.5 146.35,741.57 153.13,740.69 157.77,728.36 163.83,710.96 167.4,694.89 172.4,673.09 178.11,649.75 184.17,632.13 188.46,614.52 193.1,582.15 195.95,580.83 200.59,564.53 203.09,553.52 213.79,552.42 216.65,545.16 220.93,536.79 224.5,531.51 231.64,529.3 338.69,529.3" fill="none" stroke="#222" stroke-width="1.0" stroke-linejoin="round"/><g fill="#000"><circle cx="53.21" cy="749.5" r="2.35"/><circle cx="81.76" cy="749.5" r="2.35"/><circle cx="110.31" cy="749.5" r="2.35"/><circle cx="138.85" cy="749.5" r="2.35"/><circle cx="167.4" cy="694.89" r="2.35"/><circle cx="195.95" cy="580.83" r="2.35"/><circle cx="224.5" cy="531.51" r="2.35"/><circle cx="253.05" cy="529.3" r="2.35"/><circle cx="281.59" cy="529.3" r="2.35"/><circle cx="310.14" cy="529.3" r="2.35"/><circle cx="338.69" cy="529.3" r="2.35"/></g><polyline points="53.21,749.5 138.85,749.5 146.35,731.88 157.77,699.95 167.4,684.1 178.11,663.62 184.17,649.75 195.95,632.13 204.87,611.66 213.44,588.32 224.5,566.08 231.64,545.16 236.99,532.39 242.34,529.3 338.69,529.3" fill="none" stroke="#111" stroke-width="1.35" stroke-dasharray="4 3.2" stroke-linejoin="round"/><g fill="#000"><rect x="51.06" y="747.35" width="4.3" height="4.3"/><rect x="79.61" y="747.35" width="4.3" height="4.3"/><rect x="108.16" y="747.35" width="4.3" height="4.3"/><rect x="136.7" y="747.35" width="4.3" height="4.3"/><rect x="165.25" y="681.95" width="4.3" height="4.3"/><rect x="193.8" y="629.98" width="4.3" height="4.3"/><rect x="222.35" y="563.93" width="4.3" height="4.3"/><rect x="250.9" y="527.15" width="4.3" height="4.3"/><rect x="279.44" y="527.15" width="4.3" height="4.3"/><rect x="307.99" y="527.15" width="4.3" height="4.3"/><rect x="336.54" y="527.15" width="4.3" height="4.3"/></g><polyline points="53.21,749.5 81.76,749.5 90.68,745.97 102.46,710.96 110.31,693.35 117.09,679.03 125.65,667.14 134.57,640.72 138.85,632.13 147.78,626.19 157.77,615.18 167.4,601.31 175.61,576.65 184.17,559.03 190.24,538.55 195.95,536.35 207.73,529.96 224.5,529.3 338.69,529.3" fill="none" stroke="#111" stroke-width="1.35" stroke-dasharray="4 3.2" stroke-linejoin="round"/><g fill="#000"><path d="M53.21 746.5L56.21 749.5L53.21 752.5L50.21 749.5Z"/><path d="M81.76 746.5L84.76 749.5L81.76 752.5L78.76 749.5Z"/><path d="M110.31 690.35L113.31 693.35L110.31 696.35L107.31 693.35Z"/><path d="M138.85 629.13L141.85 632.13L138.85 635.13L135.85 632.13Z"/><path d="M167.4 598.31L170.4 601.31L167.4 604.31L164.4 601.31Z"/><path d="M195.95 533.35L198.95 536.35L195.95 539.35L192.95 536.35Z"/><path d="M224.5 526.3L227.5 529.3L224.5 532.3L221.5 529.3Z"/><path d="M253.05 526.3L256.05 529.3L253.05 532.3L250.05 529.3Z"/><path d="M281.59 526.3L284.59 529.3L281.59 532.3L278.59 529.3Z"/><path d="M310.14 526.3L313.14 529.3L310.14 532.3L307.14 529.3Z"/><path d="M338.69 526.3L341.69 529.3L338.69 532.3L335.69 529.3Z"/></g><polyline points="53.21,749.5 160.26,749.5 167.4,745.97 178.11,734.08 189.88,705.46 195.95,691.15 204.87,670.23 216.29,649.75 224.5,636.54 231.64,614.3 242.34,597.56 249.48,566.08 253.05,563.87 258.76,546.92 266.25,531.51 269.1,529.3 338.69,529.3" fill="none" stroke="#000" stroke-width="1.0" stroke-dasharray="1 1.8" stroke-linejoin="round"/><g fill="#000"><path d="M53.21 747.15L55.56 751.85L50.86 751.85Z"/><path d="M81.76 747.15L84.11 751.85L79.41 751.85Z"/><path d="M110.31 747.15L112.66 751.85L107.96 751.85Z"/><path d="M138.85 747.15L141.2 751.85L136.5 751.85Z"/><path d="M167.4 743.62L169.75 748.32L165.05 748.32Z"/><path d="M195.95 688.8L198.3 693.5L193.6 693.5Z"/><path d="M224.5 634.19L226.85 638.89L222.15 638.89Z"/><path d="M253.05 561.52L255.4 566.22L250.7 566.22Z"/><path d="M281.59 526.95L283.94 531.65L279.24 531.65Z"/><path d="M310.14 526.95L312.49 531.65L307.79 531.65Z"/><path d="M338.69 526.95L341.04 531.65L336.34 531.65Z"/></g><polyline points="53.21,749.5 138.85,749.5 157.77,740.03 167.4,724.83 178.11,687.84 184.17,667.14 195.95,662.74 204.87,652.61 213.44,632.13 219.15,611.66 224.5,583.91 231.64,553.52 236.99,536.57 239.84,532.39 244.12,529.3 338.69,529.3" fill="none" stroke="#000" stroke-width="1.0" stroke-dasharray="1 1.8" stroke-linejoin="round"/><g fill="#000"><path d="M53.21 751.85L55.56 747.15L50.86 747.15Z"/><path d="M81.76 751.85L84.11 747.15L79.41 747.15Z"/><path d="M110.31 751.85L112.66 747.15L107.96 747.15Z"/><path d="M138.85 751.85L141.2 747.15L136.5 747.15Z"/><path d="M167.4 727.18L169.75 722.48L165.05 722.48Z"/><path d="M195.95 665.09L198.3 660.39L193.6 660.39Z"/><path d="M224.5 586.26L226.85 581.56L222.15 581.56Z"/><path d="M253.05 531.65L255.4 526.95L250.7 526.95Z"/><path d="M281.59 531.65L283.94 526.95L279.24 526.95Z"/><path d="M310.14 531.65L312.49 526.95L307.79 526.95Z"/><path d="M338.69 531.65L341.04 526.95L336.34 526.95Z"/></g></g><rect x="47.5" y="524.9" width="296.9" height="229.0" fill="none" stroke="#111" stroke-width="1"/><path d="M53.21 753.9v-3M53.21 524.9v3M81.76 753.9v-3M81.76 524.9v3M110.31 753.9v-3M110.31 524.9v3M138.85 753.9v-3M138.85 524.9v3M167.4 753.9v-3M167.4 524.9v3M195.95 753.9v-3M195.95 524.9v3M224.5 753.9v-3M224.5 524.9v3M253.05 753.9v-3M253.05 524.9v3M281.59 753.9v-3M281.59 524.9v3M310.14 753.9v-3M310.14 524.9v3M338.69 753.9v-3M338.69 524.9v3M47.5 749.5h3M344.4 749.5h-3M47.5 705.46h3M344.4 705.46h-3M47.5 661.42h3M344.4 661.42h-3M47.5 617.38h3M344.4 617.38h-3M47.5 573.34h3M344.4 573.34h-3M47.5 529.3h3M344.4 529.3h-3" stroke="#222" stroke-width="0.8" fill="none"/><g font-size="9.9" fill="#000" class="tk"><text x="53.81" y="763.7" text-anchor="middle" textLength="5.79" lengthAdjust="spacingAndGlyphs">0</text><text x="82.36" y="763.7" text-anchor="middle" textLength="5.79" lengthAdjust="spacingAndGlyphs">8</text><text x="110.91" y="763.7" text-anchor="middle" textLength="11.58" lengthAdjust="spacingAndGlyphs">16</text><text x="139.45" y="763.7" text-anchor="middle" textLength="11.58" lengthAdjust="spacingAndGlyphs">24</text><text x="168" y="763.7" text-anchor="middle" textLength="11.58" lengthAdjust="spacingAndGlyphs">32</text><text x="196.55" y="763.7" text-anchor="middle" textLength="11.58" lengthAdjust="spacingAndGlyphs">40</text><text x="225.1" y="763.7" text-anchor="middle" textLength="11.58" lengthAdjust="spacingAndGlyphs">48</text><text x="253.65" y="763.7" text-anchor="middle" textLength="11.58" lengthAdjust="spacingAndGlyphs">56</text><text x="282.19" y="763.7" text-anchor="middle" textLength="11.58" lengthAdjust="spacingAndGlyphs">64</text><text x="310.74" y="763.7" text-anchor="middle" textLength="11.58" lengthAdjust="spacingAndGlyphs">72</text><text x="339.29" y="763.7" text-anchor="middle" textLength="11.58" lengthAdjust="spacingAndGlyphs">80</text><text x="46.5" y="752.3" text-anchor="end" textLength="14.47" lengthAdjust="spacingAndGlyphs">0.0</text><text x="46.5" y="708.26" text-anchor="end" textLength="14.47" lengthAdjust="spacingAndGlyphs">0.2</text><text x="46.5" y="664.22" text-anchor="end" textLength="14.47" lengthAdjust="spacingAndGlyphs">0.4</text><text x="46.5" y="620.18" text-anchor="end" textLength="14.47" lengthAdjust="spacingAndGlyphs">0.6</text><text x="46.5" y="576.14" text-anchor="end" textLength="14.47" lengthAdjust="spacingAndGlyphs">0.8</text><text x="46.5" y="532.1" text-anchor="end" textLength="14.47" lengthAdjust="spacingAndGlyphs">1.0</text></g><text x="231.09" y="614.1" font-size="16.6" fill="#000" textLength="89.63" lengthAdjust="spacingAndGlyphs">Fonfreyde3</text><rect x="221.2" y="665.4" width="118.3" height="83.2" fill="#fff" stroke="#111" stroke-width="1"/><path d="M227.8 673.3H243.1" stroke="#000" stroke-width="2.0"/><text x="252.5" y="676.7" font-size="10.3" fill="#000" textLength="45.8" lengthAdjust="spacingAndGlyphs">Measures</text><path d="M227.8 686.9H243.1" stroke="#000" stroke-width="1.0"/><g fill="#000"><circle cx="228.5" cy="686.9" r="2.35"/><circle cx="242.1" cy="686.9" r="2.35"/></g><text x="252.5" y="690.3" font-size="10.3" fill="#000" textLength="57.52" lengthAdjust="spacingAndGlyphs">Asymmetric</text><path d="M227.8 700.5H243.1" stroke="#000" stroke-width="1.35" stroke-dasharray="4 3.2" stroke-dashoffset="6.1"/><g fill="#000"><rect x="226.35" y="698.35" width="4.3" height="4.3"/><rect x="239.95" y="698.35" width="4.3" height="4.3"/></g><text x="252.5" y="703.9" font-size="10.3" fill="#000" textLength="61.99" lengthAdjust="spacingAndGlyphs">Simple Mean</text><path d="M227.8 714.1H243.1" stroke="#000" stroke-width="1.35" stroke-dasharray="4 3.2" stroke-dashoffset="6.1"/><g fill="#000"><path d="M228.5 711.1L231.5 714.1L228.5 717.1L225.5 714.1Z"/><path d="M242.1 711.1L245.1 714.1L242.1 717.1L239.1 714.1Z"/></g><text x="252.5" y="717.5" font-size="10.3" fill="#000" textLength="55.68" lengthAdjust="spacingAndGlyphs">Simple Max</text><path d="M227.8 727.7H243.1" stroke="#000" stroke-width="1.0" stroke-dasharray="1 1.8"/><g fill="#000"><path d="M228.5 725.35L230.85 730.05L226.15 730.05Z"/><path d="M242.1 725.35L244.45 730.05L239.75 730.05Z"/></g><text x="252.5" y="731.1" font-size="10.3" fill="#000" textLength="83.93" lengthAdjust="spacingAndGlyphs">Allometric Radius</text><path d="M227.8 741.3H243.1" stroke="#000" stroke-width="1.0" stroke-dasharray="1 1.8"/><g fill="#000"><path d="M228.5 743.65L230.85 738.95L226.15 738.95Z"/><path d="M242.1 743.65L244.45 738.95L239.75 738.95Z"/></g><text x="252.5" y="744.7" font-size="10.3" fill="#000" textLength="48.69" lengthAdjust="spacingAndGlyphs">Allometric</text></g>
<g><clipPath id="clipVentouxC7"><rect x="386.0" y="524.9" width="295.5" height="229.0"/></clipPath><g clip-path="url(#clipVentouxC7)"><polyline points="391.68,749.5 405.89,745.53 510.45,745.53 515.85,738.05 520.96,730.78 525.23,723.95 529.77,716.47 533.75,705.46 537.44,683 541.99,664.28 546.82,629.05 550.23,594.04 553.64,570.7 558.47,554.41 563.02,542.52 567.56,533.27 574.67,529.3 670.13,529.3" fill="none" stroke="#000" stroke-width="2.0" stroke-linejoin="round"/><polyline points="391.68,749.5 499.65,749.5 505.34,743.77 507.89,739.81 514.43,734.96 519.54,731.88 525.51,725.27 533.75,714.27 539.43,692.25 545.12,650.41 549.38,606.37 553.64,573.34 557.9,555.73 562.16,544.72 567.85,535.91 572.11,529.3 670.13,529.3" fill="none" stroke="#222" stroke-width="1.0" stroke-linejoin="round"/><g fill="#000"><circle cx="391.68" cy="749.5" r="2.35"/><circle cx="420.1" cy="749.5" r="2.35"/><circle cx="448.51" cy="749.5" r="2.35"/><circle cx="476.92" cy="749.5" r="2.35"/><circle cx="505.34" cy="743.77" r="2.35"/><circle cx="533.75" cy="714.27" r="2.35"/><circle cx="562.16" cy="544.72" r="2.35"/><circle cx="590.58" cy="529.3" r="2.35"/><circle cx="618.99" cy="529.3" r="2.35"/><circle cx="647.4" cy="529.3" r="2.35"/></g><polyline points="391.68,749.5 499.65,749.5 505.34,747.29 519.54,736.28 533.75,711.62 541.99,687.84 551.37,646.01 562.16,601.09 569.84,571.14 576.94,547.36 584.89,538.11 590.58,536.13 596.26,529.3 670.13,529.3" fill="none" stroke="#111" stroke-width="1.35" stroke-dasharray="4 3.2" stroke-linejoin="round"/><g fill="#000"><rect x="389.53" y="747.35" width="4.3" height="4.3"/><rect x="417.95" y="747.35" width="4.3" height="4.3"/><rect x="446.36" y="747.35" width="4.3" height="4.3"/><rect x="474.77" y="747.35" width="4.3" height="4.3"/><rect x="503.19" y="745.14" width="4.3" height="4.3"/><rect x="531.6" y="709.47" width="4.3" height="4.3"/><rect x="560.01" y="598.94" width="4.3" height="4.3"/><rect x="588.43" y="533.98" width="4.3" height="4.3"/><rect x="616.84" y="527.15" width="4.3" height="4.3"/><rect x="645.25" y="527.15" width="4.3" height="4.3"/></g><polyline points="391.68,749.5 408.73,746.63 420.1,745.53 471.81,742.89 476.92,742.01 483.46,736.28 490.56,717.35 495.11,703.26 505.34,694.01 510.45,686.3 520.96,654.81 530.34,626.85 533.75,622.23 537.44,605.93 544.26,594.04 549.09,570.7 553.64,551.98 558.47,547.36 562.16,541.63 567.56,533.71 574.67,529.3 670.13,529.3" fill="none" stroke="#111" stroke-width="1.35" stroke-dasharray="4 3.2" stroke-linejoin="round"/><g fill="#000"><path d="M391.68 746.5L394.68 749.5L391.68 752.5L388.68 749.5Z"/><path d="M420.1 742.53L423.1 745.53L420.1 748.53L417.1 745.53Z"/><path d="M448.51 741.08L451.51 744.08L448.51 747.08L445.51 744.08Z"/><path d="M476.92 739.01L479.92 742.01L476.92 745.01L473.92 742.01Z"/><path d="M505.34 691.01L508.34 694.01L505.34 697.01L502.34 694.01Z"/><path d="M533.75 619.23L536.75 622.23L533.75 625.23L530.75 622.23Z"/><path d="M562.16 538.63L565.16 541.63L562.16 544.63L559.16 541.63Z"/><path d="M590.58 526.3L593.58 529.3L590.58 532.3L587.58 529.3Z"/><path d="M618.99 526.3L621.99 529.3L618.99 532.3L615.99 529.3Z"/><path d="M647.4 526.3L650.4 529.3L647.4 532.3L644.4 529.3Z"/></g><polyline points="391.68,749.5 496.81,749.5 505.34,743.33 507.89,731.88 512.16,728.58 519.54,723.07 522.95,715.37 529.77,705.46 533.75,687.84 539.43,661.42 545.12,639.4 550.8,617.38 556.48,599.77 562.16,588.32 572.11,559.03 579.21,540.31 586.31,531.51 590.58,529.3 670.13,529.3" fill="none" stroke="#000" stroke-width="1.0" stroke-dasharray="1 1.8" stroke-linejoin="round"/><g fill="#000"><path d="M391.68 747.15L394.03 751.85L389.33 751.85Z"/><path d="M420.1 747.15L422.45 751.85L417.75 751.85Z"/><path d="M448.51 747.15L450.86 751.85L446.16 751.85Z"/><path d="M476.92 747.15L479.27 751.85L474.57 751.85Z"/><path d="M505.34 740.98L507.69 745.68L502.99 745.68Z"/><path d="M533.75 685.49L536.1 690.19L531.4 690.19Z"/><path d="M562.16 585.97L564.51 590.67L559.81 590.67Z"/><path d="M590.58 526.95L592.93 531.65L588.23 531.65Z"/><path d="M618.99 526.95L621.34 531.65L616.64 531.65Z"/><path d="M647.4 526.95L649.75 531.65L645.05 531.65Z"/></g><polyline points="391.68,749.5 496.81,749.5 505.34,742.89 507.89,730.78 512.16,727.7 519.54,721.97 522.95,714.71 529.77,704.36 533.75,684.1 539.43,657.02 545.12,632.79 550.8,612.98 556.48,595.36 562.16,579.95 569.84,554.41 574.95,540.31 581.77,533.71 584.89,529.3 670.13,529.3" fill="none" stroke="#000" stroke-width="1.0" stroke-dasharray="1 1.8" stroke-linejoin="round"/><g fill="#000"><path d="M391.68 751.85L394.03 747.15L389.33 747.15Z"/><path d="M420.1 751.85L422.45 747.15L417.75 747.15Z"/><path d="M448.51 751.85L450.86 747.15L446.16 747.15Z"/><path d="M476.92 751.85L479.27 747.15L474.57 747.15Z"/><path d="M505.34 745.24L507.69 740.54L502.99 740.54Z"/><path d="M533.75 686.45L536.1 681.75L531.4 681.75Z"/><path d="M562.16 582.3L564.51 577.6L559.81 577.6Z"/><path d="M590.58 531.65L592.93 526.95L588.23 526.95Z"/><path d="M618.99 531.65L621.34 526.95L616.64 526.95Z"/><path d="M647.4 531.65L649.75 526.95L645.05 526.95Z"/></g></g><rect x="386.0" y="524.9" width="295.5" height="229.0" fill="none" stroke="#111" stroke-width="1"/><path d="M391.68 753.9v-3M391.68 524.9v3M420.1 753.9v-3M420.1 524.9v3M448.51 753.9v-3M448.51 524.9v3M476.92 753.9v-3M476.92 524.9v3M505.34 753.9v-3M505.34 524.9v3M533.75 753.9v-3M533.75 524.9v3M562.16 753.9v-3M562.16 524.9v3M590.58 753.9v-3M590.58 524.9v3M618.99 753.9v-3M618.99 524.9v3M647.4 753.9v-3M647.4 524.9v3M675.82 753.9v-3M675.82 524.9v3M386.0 749.5h3M681.5 749.5h-3M386.0 705.46h3M681.5 705.46h-3M386.0 661.42h3M681.5 661.42h-3M386.0 617.38h3M681.5 617.38h-3M386.0 573.34h3M681.5 573.34h-3M386.0 529.3h3M681.5 529.3h-3" stroke="#222" stroke-width="0.8" fill="none"/><g font-size="9.9" fill="#000" class="tk"><text x="392.28" y="763.7" text-anchor="middle" textLength="5.79" lengthAdjust="spacingAndGlyphs">0</text><text x="420.7" y="763.7" text-anchor="middle" textLength="11.58" lengthAdjust="spacingAndGlyphs">10</text><text x="449.11" y="763.7" text-anchor="middle" textLength="11.58" lengthAdjust="spacingAndGlyphs">20</text><text x="477.52" y="763.7" text-anchor="middle" textLength="11.58" lengthAdjust="spacingAndGlyphs">30</text><text x="505.94" y="763.7" text-anchor="middle" textLength="11.58" lengthAdjust="spacingAndGlyphs">40</text><text x="534.35" y="763.7" text-anchor="middle" textLength="11.58" lengthAdjust="spacingAndGlyphs">50</text><text x="562.76" y="763.7" text-anchor="middle" textLength="11.58" lengthAdjust="spacingAndGlyphs">60</text><text x="591.18" y="763.7" text-anchor="middle" textLength="11.58" lengthAdjust="spacingAndGlyphs">70</text><text x="619.59" y="763.7" text-anchor="middle" textLength="11.58" lengthAdjust="spacingAndGlyphs">80</text><text x="648" y="763.7" text-anchor="middle" textLength="11.58" lengthAdjust="spacingAndGlyphs">90</text><text x="676.42" y="763.7" text-anchor="middle" textLength="17.37" lengthAdjust="spacingAndGlyphs">100</text><text x="385" y="752.3" text-anchor="end" textLength="14.47" lengthAdjust="spacingAndGlyphs">0.0</text><text x="385" y="708.26" text-anchor="end" textLength="14.47" lengthAdjust="spacingAndGlyphs">0.2</text><text x="385" y="664.22" text-anchor="end" textLength="14.47" lengthAdjust="spacingAndGlyphs">0.4</text><text x="385" y="620.18" text-anchor="end" textLength="14.47" lengthAdjust="spacingAndGlyphs">0.6</text><text x="385" y="576.14" text-anchor="end" textLength="14.47" lengthAdjust="spacingAndGlyphs">0.8</text><text x="385" y="532.1" text-anchor="end" textLength="14.47" lengthAdjust="spacingAndGlyphs">1.0</text></g><text x="568.72" y="617.3" font-size="16.6" fill="#000" textLength="86.44" lengthAdjust="spacingAndGlyphs">VentouxC7</text><rect x="558.3" y="665.4" width="118.3" height="83.2" fill="#fff" stroke="#111" stroke-width="1"/><path d="M564.9 673.3H580.2" stroke="#000" stroke-width="2.0"/><text x="589.6" y="676.7" font-size="10.3" fill="#000" textLength="45.8" lengthAdjust="spacingAndGlyphs">Measures</text><path d="M564.9 686.9H580.2" stroke="#000" stroke-width="1.0"/><g fill="#000"><circle cx="565.6" cy="686.9" r="2.35"/><circle cx="579.2" cy="686.9" r="2.35"/></g><text x="589.6" y="690.3" font-size="10.3" fill="#000" textLength="57.52" lengthAdjust="spacingAndGlyphs">Asymmetric</text><path d="M564.9 700.5H580.2" stroke="#000" stroke-width="1.35" stroke-dasharray="4 3.2" stroke-dashoffset="6.1"/><g fill="#000"><rect x="563.45" y="698.35" width="4.3" height="4.3"/><rect x="577.05" y="698.35" width="4.3" height="4.3"/></g><text x="589.6" y="703.9" font-size="10.3" fill="#000" textLength="61.99" lengthAdjust="spacingAndGlyphs">Simple Mean</text><path d="M564.9 714.1H580.2" stroke="#000" stroke-width="1.35" stroke-dasharray="4 3.2" stroke-dashoffset="6.1"/><g fill="#000"><path d="M565.6 711.1L568.6 714.1L565.6 717.1L562.6 714.1Z"/><path d="M579.2 711.1L582.2 714.1L579.2 717.1L576.2 714.1Z"/></g><text x="589.6" y="717.5" font-size="10.3" fill="#000" textLength="55.68" lengthAdjust="spacingAndGlyphs">Simple Max</text><path d="M564.9 727.7H580.2" stroke="#000" stroke-width="1.0" stroke-dasharray="1 1.8"/><g fill="#000"><path d="M565.6 725.35L567.95 730.05L563.25 730.05Z"/><path d="M579.2 725.35L581.55 730.05L576.85 730.05Z"/></g><text x="589.6" y="731.1" font-size="10.3" fill="#000" textLength="83.93" lengthAdjust="spacingAndGlyphs">Allometric Radius</text><path d="M564.9 741.3H580.2" stroke="#000" stroke-width="1.0" stroke-dasharray="1 1.8"/><g fill="#000"><path d="M565.6 743.65L567.95 738.95L563.25 738.95Z"/><path d="M579.2 743.65L581.55 738.95L576.85 738.95Z"/></g><text x="589.6" y="744.7" font-size="10.3" fill="#000" textLength="48.69" lengthAdjust="spacingAndGlyphs">Allometric</text></g>
<g><clipPath id="clipFonfreyde5"><rect x="47.5" y="787.4" width="296.9" height="229.0"/></clipPath><g clip-path="url(#clipFonfreyde5)"><polyline points="53.21,1012 81.76,1012 93.18,1010.9 99.46,1008.47 104.03,1008.47 110.88,1000.55 118.87,978.53 125.15,965.76 129.15,955.19 132,942.2 136,918.85 139.42,898.16 144.56,877.68 150.84,865.79 156.55,848.39 166.83,833.64 173.11,829.24 178.82,808.98 184.53,808.98 190.24,795.77 195.95,792.9 222.21,792.9 224.5,791.8 338.69,791.8" fill="none" stroke="#000" stroke-width="2.0" stroke-linejoin="round"/><polyline points="53.21,1012 81.76,1012 99.46,1009.79 110.31,986.89 118.87,973.46 122.87,969.5 128.01,955.19 132,944.84 138.85,931.85 143.99,931.85 148.56,918.85 156.55,900.8 159.98,896.17 163.98,889.13 167.4,865.13 173.11,845.53 178.82,836.72 187.39,830.78 195.95,825.05 207.37,819.11 219.36,813.38 224.5,807.44 233.63,798.85 241.63,792.9 253.05,791.8 338.69,791.8" fill="none" stroke="#222" stroke-width="1.0" stroke-linejoin="round"/><g fill="#000"><circle cx="53.21" cy="1012" r="2.35"/><circle cx="81.76" cy="1012" r="2.35"/><circle cx="110.31" cy="986.89" r="2.35"/><circle cx="138.85" cy="931.85" r="2.35"/><circle cx="167.4" cy="865.13" r="2.35"/><circle cx="195.95" cy="825.05" r="2.35"/><circle cx="224.5" cy="807.44" r="2.35"/><circle cx="253.05" cy="791.8" r="2.35"/><circle cx="281.59" cy="791.8" r="2.35"/><circle cx="310.14" cy="791.8" r="2.35"/><circle cx="338.69" cy="791.8" r="2.35"/></g><polyline points="53.21,1012 81.76,1012 90.32,1007.59 99.46,992.18 110.31,966.2 116.02,942.2 122.87,922.82 126.86,921.5 132,911.15 138.85,904.54 147.42,891.77 151.99,890.89 167.4,884.28 178.82,868.87 195.95,842.45 210.79,825.05 224.5,808.1 233.06,806.12 241.63,797.31 253.05,791.8 338.69,791.8" fill="none" stroke="#111" stroke-width="1.35" stroke-dasharray="4 3.2" stroke-linejoin="round"/><g fill="#000"><rect x="51.06" y="1009.85" width="4.3" height="4.3"/><rect x="79.61" y="1009.85" width="4.3" height="4.3"/><rect x="108.16" y="964.05" width="4.3" height="4.3"/><rect x="136.7" y="902.39" width="4.3" height="4.3"/><rect x="165.25" y="882.13" width="4.3" height="4.3"/><rect x="193.8" y="840.3" width="4.3" height="4.3"/><rect x="222.35" y="805.95" width="4.3" height="4.3"/><rect x="250.9" y="789.65" width="4.3" height="4.3"/><rect x="279.44" y="789.65" width="4.3" height="4.3"/><rect x="307.99" y="789.65" width="4.3" height="4.3"/><rect x="336.54" y="789.65" width="4.3" height="4.3"/></g><polyline points="53.21,1012 61.77,997.24 70.34,973.9 76.05,950.34 81.76,918.19 88.04,895.07 96.6,882.08 105.17,880.54 110.31,870.85 117.16,849.71 131.43,849.05 138.85,832.98 149.13,825.05 161.12,811.62 167.4,808.1 175.4,801.71 184.53,792.9 195.95,791.8 338.69,791.8" fill="none" stroke="#111" stroke-width="1.35" stroke-dasharray="4 3.2" stroke-linejoin="round"/><g fill="#000"><path d="M53.21 1009L56.21 1012L53.21 1015L50.21 1012Z"/><path d="M81.76 915.19L84.76 918.19L81.76 921.19L78.76 918.19Z"/><path d="M110.31 867.85L113.31 870.85L110.31 873.85L107.31 870.85Z"/><path d="M138.85 829.98L141.85 832.98L138.85 835.98L135.85 832.98Z"/><path d="M167.4 805.1L170.4 808.1L167.4 811.1L164.4 808.1Z"/><path d="M195.95 788.8L198.95 791.8L195.95 794.8L192.95 791.8Z"/><path d="M224.5 788.8L227.5 791.8L224.5 794.8L221.5 791.8Z"/><path d="M253.05 788.8L256.05 791.8L253.05 794.8L250.05 791.8Z"/><path d="M281.59 788.8L284.59 791.8L281.59 794.8L278.59 791.8Z"/><path d="M310.14 788.8L313.14 791.8L310.14 794.8L307.14 791.8Z"/><path d="M338.69 788.8L341.69 791.8L338.69 794.8L335.69 791.8Z"/></g><polyline points="53.21,1012 81.76,1012 90.32,1000.99 100.6,970.82 110.31,939.55 114.87,929.2 121.72,913.79 132,898.16 138.85,898.16 147.42,887.81 151.99,886.27 167.4,868.87 184.53,833.64 195.95,818.67 210.79,813.82 224.5,798.85 235.92,791.8 338.69,791.8" fill="none" stroke="#000" stroke-width="1.0" stroke-dasharray="1 1.8" stroke-linejoin="round"/><g fill="#000"><path d="M53.21 1009.65L55.56 1014.35L50.86 1014.35Z"/><path d="M81.76 1009.65L84.11 1014.35L79.41 1014.35Z"/><path d="M110.31 937.2L112.66 941.9L107.96 941.9Z"/><path d="M138.85 895.81L141.2 900.51L136.5 900.51Z"/><path d="M167.4 866.52L169.75 871.22L165.05 871.22Z"/><path d="M195.95 816.32L198.3 821.02L193.6 821.02Z"/><path d="M224.5 796.5L226.85 801.2L222.15 801.2Z"/><path d="M253.05 789.45L255.4 794.15L250.7 794.15Z"/><path d="M281.59 789.45L283.94 794.15L279.24 794.15Z"/><path d="M310.14 789.45L312.49 794.15L307.79 794.15Z"/><path d="M338.69 789.45L341.04 794.15L336.34 794.15Z"/></g><polyline points="53.21,1012 81.76,1012 90.32,1004.51 99.46,983.81 110.31,955.19 117.73,934.49 122.87,921.5 132,908.51 138.85,900.8 147.42,890.45 153.13,888.69 167.4,874.16 181.1,851.26 195.95,824.83 210.79,813.82 224.5,804.58 241.63,791.8 338.69,791.8" fill="none" stroke="#000" stroke-width="1.0" stroke-dasharray="1 1.8" stroke-linejoin="round"/><g fill="#000"><path d="M53.21 1014.35L55.56 1009.65L50.86 1009.65Z"/><path d="M81.76 1014.35L84.11 1009.65L79.41 1009.65Z"/><path d="M110.31 957.54L112.66 952.84L107.96 952.84Z"/><path d="M138.85 903.15L141.2 898.45L136.5 898.45Z"/><path d="M167.4 876.51L169.75 871.81L165.05 871.81Z"/><path d="M195.95 827.18L198.3 822.48L193.6 822.48Z"/><path d="M224.5 806.93L226.85 802.23L222.15 802.23Z"/><path d="M253.05 794.15L255.4 789.45L250.7 789.45Z"/><path d="M281.59 794.15L283.94 789.45L279.24 789.45Z"/><path d="M310.14 794.15L312.49 789.45L307.79 789.45Z"/><path d="M338.69 794.15L341.04 789.45L336.34 789.45Z"/></g></g><rect x="47.5" y="787.4" width="296.9" height="229.0" fill="none" stroke="#111" stroke-width="1"/><path d="M53.21 1016.4v-3M53.21 787.4v3M81.76 1016.4v-3M81.76 787.4v3M110.31 1016.4v-3M110.31 787.4v3M138.85 1016.4v-3M138.85 787.4v3M167.4 1016.4v-3M167.4 787.4v3M195.95 1016.4v-3M195.95 787.4v3M224.5 1016.4v-3M224.5 787.4v3M253.05 1016.4v-3M253.05 787.4v3M281.59 1016.4v-3M281.59 787.4v3M310.14 1016.4v-3M310.14 787.4v3M338.69 1016.4v-3M338.69 787.4v3M47.5 1012h3M344.4 1012h-3M47.5 967.96h3M344.4 967.96h-3M47.5 923.92h3M344.4 923.92h-3M47.5 879.88h3M344.4 879.88h-3M47.5 835.84h3M344.4 835.84h-3M47.5 791.8h3M344.4 791.8h-3" stroke="#222" stroke-width="0.8" fill="none"/><g font-size="9.9" fill="#000" class="tk"><text x="53.81" y="1026.2" text-anchor="middle" textLength="5.79" lengthAdjust="spacingAndGlyphs">0</text><text x="82.36" y="1026.2" text-anchor="middle" textLength="5.79" lengthAdjust="spacingAndGlyphs">5</text><text x="110.91" y="1026.2" text-anchor="middle" textLength="11.58" lengthAdjust="spacingAndGlyphs">10</text><text x="139.45" y="1026.2" text-anchor="middle" textLength="11.58" lengthAdjust="spacingAndGlyphs">15</text><text x="168" y="1026.2" text-anchor="middle" textLength="11.58" lengthAdjust="spacingAndGlyphs">20</text><text x="196.55" y="1026.2" text-anchor="middle" textLength="11.58" lengthAdjust="spacingAndGlyphs">25</text><text x="225.1" y="1026.2" text-anchor="middle" textLength="11.58" lengthAdjust="spacingAndGlyphs">30</text><text x="253.65" y="1026.2" text-anchor="middle" textLength="11.58" lengthAdjust="spacingAndGlyphs">35</text><text x="282.19" y="1026.2" text-anchor="middle" textLength="11.58" lengthAdjust="spacingAndGlyphs">40</text><text x="310.74" y="1026.2" text-anchor="middle" textLength="11.58" lengthAdjust="spacingAndGlyphs">45</text><text x="339.29" y="1026.2" text-anchor="middle" textLength="11.58" lengthAdjust="spacingAndGlyphs">50</text><text x="46.5" y="1014.8" text-anchor="end" textLength="14.47" lengthAdjust="spacingAndGlyphs">0.0</text><text x="46.5" y="970.76" text-anchor="end" textLength="14.47" lengthAdjust="spacingAndGlyphs">0.2</text><text x="46.5" y="926.72" text-anchor="end" textLength="14.47" lengthAdjust="spacingAndGlyphs">0.4</text><text x="46.5" y="882.68" text-anchor="end" textLength="14.47" lengthAdjust="spacingAndGlyphs">0.6</text><text x="46.5" y="838.64" text-anchor="end" textLength="14.47" lengthAdjust="spacingAndGlyphs">0.8</text><text x="46.5" y="794.6" text-anchor="end" textLength="14.47" lengthAdjust="spacingAndGlyphs">1.0</text></g><text x="231.09" y="876.6" font-size="16.6" fill="#000" textLength="89.63" lengthAdjust="spacingAndGlyphs">Fonfreyde5</text><rect x="221.2" y="927.9" width="118.3" height="83.2" fill="#fff" stroke="#111" stroke-width="1"/><path d="M227.8 935.8H243.1" stroke="#000" stroke-width="2.0"/><text x="252.5" y="939.2" font-size="10.3" fill="#000" textLength="45.8" lengthAdjust="spacingAndGlyphs">Measures</text><path d="M227.8 949.4H243.1" stroke="#000" stroke-width="1.0"/><g fill="#000"><circle cx="228.5" cy="949.4" r="2.35"/><circle cx="242.1" cy="949.4" r="2.35"/></g><text x="252.5" y="952.8" font-size="10.3" fill="#000" textLength="57.52" lengthAdjust="spacingAndGlyphs">Asymmetric</text><path d="M227.8 963H243.1" stroke="#000" stroke-width="1.35" stroke-dasharray="4 3.2" stroke-dashoffset="6.1"/><g fill="#000"><rect x="226.35" y="960.85" width="4.3" height="4.3"/><rect x="239.95" y="960.85" width="4.3" height="4.3"/></g><text x="252.5" y="966.4" font-size="10.3" fill="#000" textLength="61.99" lengthAdjust="spacingAndGlyphs">Simple Mean</text><path d="M227.8 976.6H243.1" stroke="#000" stroke-width="1.35" stroke-dasharray="4 3.2" stroke-dashoffset="6.1"/><g fill="#000"><path d="M228.5 973.6L231.5 976.6L228.5 979.6L225.5 976.6Z"/><path d="M242.1 973.6L245.1 976.6L242.1 979.6L239.1 976.6Z"/></g><text x="252.5" y="980" font-size="10.3" fill="#000" textLength="55.68" lengthAdjust="spacingAndGlyphs">Simple Max</text><path d="M227.8 990.2H243.1" stroke="#000" stroke-width="1.0" stroke-dasharray="1 1.8"/><g fill="#000"><path d="M228.5 987.85L230.85 992.55L226.15 992.55Z"/><path d="M242.1 987.85L244.45 992.55L239.75 992.55Z"/></g><text x="252.5" y="993.6" font-size="10.3" fill="#000" textLength="83.93" lengthAdjust="spacingAndGlyphs">Allometric Radius</text><path d="M227.8 1003.8H243.1" stroke="#000" stroke-width="1.0" stroke-dasharray="1 1.8"/><g fill="#000"><path d="M228.5 1006.15L230.85 1001.45L226.15 1001.45Z"/><path d="M242.1 1006.15L244.45 1001.45L239.75 1001.45Z"/></g><text x="252.5" y="1007.2" font-size="10.3" fill="#000" textLength="48.69" lengthAdjust="spacingAndGlyphs">Allometric</text></g>
<g><clipPath id="clipVentoux34"><rect x="386.0" y="787.4" width="295.5" height="229.0"/></clipPath><g clip-path="url(#clipVentoux34)"><polyline points="391.68,1012 394.52,963.99 397.37,941.75 400.21,927 403.33,915.11 406.17,897.06 408.45,876.36 413.56,870.41 416.69,860.06 421.8,857.2 429.19,848.39 435.16,845.31 446.8,845.31 449.65,839.59 458.45,839.59 464.14,830.78 472.95,820.65 478.63,817.79 487.44,816.25 496.24,813.38 505.05,808.98 531.19,808.98 540,798.85 548.52,793.35 553.64,791.8 670.13,791.8" fill="none" stroke="#000" stroke-width="2.0" stroke-linejoin="round"/><polyline points="391.68,970.16 396.51,909.17 400.21,886.71 404.75,871.95 407.03,867.55 411.57,866.67 415.27,860.06 420.1,849.27 429.19,843.99 439.99,831.44 448.51,825.05 458.45,816.25 466.98,808.98 476.92,808.32 484.88,804.58 493.97,802.81 505.34,797.31 513.86,791.8 670.13,791.8" fill="none" stroke="#222" stroke-width="1.0" stroke-linejoin="round"/><g fill="#000"><circle cx="391.68" cy="970.16" r="2.35"/><circle cx="420.1" cy="849.27" r="2.35"/><circle cx="448.51" cy="825.05" r="2.35"/><circle cx="476.92" cy="808.32" r="2.35"/><circle cx="505.34" cy="797.31" r="2.35"/><circle cx="533.75" cy="791.8" r="2.35"/><circle cx="562.16" cy="791.8" r="2.35"/><circle cx="590.58" cy="791.8" r="2.35"/><circle cx="618.99" cy="791.8" r="2.35"/><circle cx="647.4" cy="791.8" r="2.35"/></g><polyline points="391.68,949.02 394.52,931.19 398.79,904.1 403.33,894.19 407.88,889.79 412.14,877.68 418.11,864.47 420.1,860.06 429.19,849.93 440.84,830.78 448.51,825.93 458.45,819.11 476.92,819.11 487.44,811.84 505.34,807.44 519.54,798.85 533.75,792.9 539.43,791.8 670.13,791.8" fill="none" stroke="#111" stroke-width="1.35" stroke-dasharray="4 3.2" stroke-linejoin="round"/><g fill="#000"><rect x="389.53" y="946.87" width="4.3" height="4.3"/><rect x="417.95" y="857.91" width="4.3" height="4.3"/><rect x="446.36" y="823.78" width="4.3" height="4.3"/><rect x="474.77" y="816.96" width="4.3" height="4.3"/><rect x="503.19" y="805.29" width="4.3" height="4.3"/><rect x="531.6" y="790.75" width="4.3" height="4.3"/><rect x="560.01" y="789.65" width="4.3" height="4.3"/><rect x="588.43" y="789.65" width="4.3" height="4.3"/><rect x="616.84" y="789.65" width="4.3" height="4.3"/><rect x="645.25" y="789.65" width="4.3" height="4.3"/></g><polyline points="391.68,856.32 397.08,836.72 405.89,822.19 411.57,815.36 420.1,815.36 432.03,808.98 448.51,805.02 461.3,800.17 470.1,795.77 476.92,794.45 496.24,792.9 505.34,791.8 670.13,791.8" fill="none" stroke="#111" stroke-width="1.35" stroke-dasharray="4 3.2" stroke-linejoin="round"/><g fill="#000"><path d="M391.68 853.32L394.68 856.32L391.68 859.32L388.68 856.32Z"/><path d="M420.1 812.36L423.1 815.36L420.1 818.36L417.1 815.36Z"/><path d="M448.51 802.02L451.51 805.02L448.51 808.02L445.51 805.02Z"/><path d="M476.92 791.45L479.92 794.45L476.92 797.45L473.92 794.45Z"/><path d="M505.34 788.8L508.34 791.8L505.34 794.8L502.34 791.8Z"/><path d="M533.75 788.8L536.75 791.8L533.75 794.8L530.75 791.8Z"/><path d="M562.16 788.8L565.16 791.8L562.16 794.8L559.16 791.8Z"/><path d="M590.58 788.8L593.58 791.8L590.58 794.8L587.58 791.8Z"/><path d="M618.99 788.8L621.99 791.8L618.99 794.8L615.99 791.8Z"/><path d="M647.4 788.8L650.4 791.8L647.4 794.8L644.4 791.8Z"/></g><polyline points="391.68,983.37 397.37,937.13 401.91,919.52 406.17,910.71 412.14,900.14 420.1,889.35 428.62,884.28 444.82,864.47 448.51,860.06 461.3,842.45 476.92,832.32 496.24,822.19 505.34,819.11 533.75,808.1 542.84,805.02 570.97,805.02 574.1,801.49 586.6,800.17 590.58,797.31 595.41,795.11 612.17,793.79 618.99,791.8 670.13,791.8" fill="none" stroke="#000" stroke-width="1.0" stroke-dasharray="1 1.8" stroke-linejoin="round"/><g fill="#000"><path d="M391.68 981.02L394.03 985.72L389.33 985.72Z"/><path d="M420.1 887L422.45 891.7L417.75 891.7Z"/><path d="M448.51 857.71L450.86 862.41L446.16 862.41Z"/><path d="M476.92 829.97L479.27 834.67L474.57 834.67Z"/><path d="M505.34 816.76L507.69 821.46L502.99 821.46Z"/><path d="M533.75 805.75L536.1 810.45L531.4 810.45Z"/><path d="M562.16 802.67L564.51 807.37L559.81 807.37Z"/><path d="M590.58 794.96L592.93 799.66L588.23 799.66Z"/><path d="M618.99 789.45L621.34 794.15L616.64 794.15Z"/><path d="M647.4 789.45L649.75 794.15L645.05 794.15Z"/></g><polyline points="391.68,993.72 397.37,939.33 401.91,920.62 406.17,911.81 412.14,900.8 420.1,889.79 428.62,884.28 444.82,862.27 448.51,857.2 461.3,841.35 476.92,830.78 496.24,821.53 505.34,817.79 533.75,808.1 542.84,805.02 570.97,805.02 574.1,801.49 586.6,800.17 590.58,796.65 595.41,794.45 612.17,793.79 618.99,791.8 670.13,791.8" fill="none" stroke="#000" stroke-width="1.0" stroke-dasharray="1 1.8" stroke-linejoin="round"/><g fill="#000"><path d="M391.68 996.07L394.03 991.37L389.33 991.37Z"/><path d="M420.1 892.14L422.45 887.44L417.75 887.44Z"/><path d="M448.51 859.55L450.86 854.85L446.16 854.85Z"/><path d="M476.92 833.13L479.27 828.43L474.57 828.43Z"/><path d="M505.34 820.14L507.69 815.44L502.99 815.44Z"/><path d="M533.75 810.45L536.1 805.75L531.4 805.75Z"/><path d="M562.16 807.37L564.51 802.67L559.81 802.67Z"/><path d="M590.58 799L592.93 794.3L588.23 794.3Z"/><path d="M618.99 794.15L621.34 789.45L616.64 789.45Z"/><path d="M647.4 794.15L649.75 789.45L645.05 789.45Z"/></g></g><rect x="386.0" y="787.4" width="295.5" height="229.0" fill="none" stroke="#111" stroke-width="1"/><path d="M391.68 1016.4v-3M391.68 787.4v3M420.1 1016.4v-3M420.1 787.4v3M448.51 1016.4v-3M448.51 787.4v3M476.92 1016.4v-3M476.92 787.4v3M505.34 1016.4v-3M505.34 787.4v3M533.75 1016.4v-3M533.75 787.4v3M562.16 1016.4v-3M562.16 787.4v3M590.58 1016.4v-3M590.58 787.4v3M618.99 1016.4v-3M618.99 787.4v3M647.4 1016.4v-3M647.4 787.4v3M675.82 1016.4v-3M675.82 787.4v3M386.0 1012h3M681.5 1012h-3M386.0 967.96h3M681.5 967.96h-3M386.0 923.92h3M681.5 923.92h-3M386.0 879.88h3M681.5 879.88h-3M386.0 835.84h3M681.5 835.84h-3M386.0 791.8h3M681.5 791.8h-3" stroke="#222" stroke-width="0.8" fill="none"/><g font-size="9.9" fill="#000" class="tk"><text x="392.28" y="1026.2" text-anchor="middle" textLength="5.79" lengthAdjust="spacingAndGlyphs">0</text><text x="420.7" y="1026.2" text-anchor="middle" textLength="11.58" lengthAdjust="spacingAndGlyphs">10</text><text x="449.11" y="1026.2" text-anchor="middle" textLength="11.58" lengthAdjust="spacingAndGlyphs">20</text><text x="477.52" y="1026.2" text-anchor="middle" textLength="11.58" lengthAdjust="spacingAndGlyphs">30</text><text x="505.94" y="1026.2" text-anchor="middle" textLength="11.58" lengthAdjust="spacingAndGlyphs">40</text><text x="534.35" y="1026.2" text-anchor="middle" textLength="11.58" lengthAdjust="spacingAndGlyphs">50</text><text x="562.76" y="1026.2" text-anchor="middle" textLength="11.58" lengthAdjust="spacingAndGlyphs">60</text><text x="591.18" y="1026.2" text-anchor="middle" textLength="11.58" lengthAdjust="spacingAndGlyphs">70</text><text x="619.59" y="1026.2" text-anchor="middle" textLength="11.58" lengthAdjust="spacingAndGlyphs">80</text><text x="648" y="1026.2" text-anchor="middle" textLength="11.58" lengthAdjust="spacingAndGlyphs">90</text><text x="676.42" y="1026.2" text-anchor="middle" textLength="17.37" lengthAdjust="spacingAndGlyphs">100</text><text x="385" y="1014.8" text-anchor="end" textLength="14.47" lengthAdjust="spacingAndGlyphs">0.0</text><text x="385" y="970.76" text-anchor="end" textLength="14.47" lengthAdjust="spacingAndGlyphs">0.2</text><text x="385" y="926.72" text-anchor="end" textLength="14.47" lengthAdjust="spacingAndGlyphs">0.4</text><text x="385" y="882.68" text-anchor="end" textLength="14.47" lengthAdjust="spacingAndGlyphs">0.6</text><text x="385" y="838.64" text-anchor="end" textLength="14.47" lengthAdjust="spacingAndGlyphs">0.8</text><text x="385" y="794.6" text-anchor="end" textLength="14.47" lengthAdjust="spacingAndGlyphs">1.0</text></g><text x="568.72" y="879.8" font-size="16.6" fill="#000" textLength="85.45" lengthAdjust="spacingAndGlyphs">Ventoux34</text><rect x="558.3" y="927.9" width="118.3" height="83.2" fill="#fff" stroke="#111" stroke-width="1"/><path d="M564.9 935.8H580.2" stroke="#000" stroke-width="2.0"/><text x="589.6" y="939.2" font-size="10.3" fill="#000" textLength="45.8" lengthAdjust="spacingAndGlyphs">Measures</text><path d="M564.9 949.4H580.2" stroke="#000" stroke-width="1.0"/><g fill="#000"><circle cx="565.6" cy="949.4" r="2.35"/><circle cx="579.2" cy="949.4" r="2.35"/></g><text x="589.6" y="952.8" font-size="10.3" fill="#000" textLength="57.52" lengthAdjust="spacingAndGlyphs">Asymmetric</text><path d="M564.9 963H580.2" stroke="#000" stroke-width="1.35" stroke-dasharray="4 3.2" stroke-dashoffset="6.1"/><g fill="#000"><rect x="563.45" y="960.85" width="4.3" height="4.3"/><rect x="577.05" y="960.85" width="4.3" height="4.3"/></g><text x="589.6" y="966.4" font-size="10.3" fill="#000" textLength="61.99" lengthAdjust="spacingAndGlyphs">Simple Mean</text><path d="M564.9 976.6H580.2" stroke="#000" stroke-width="1.35" stroke-dasharray="4 3.2" stroke-dashoffset="6.1"/><g fill="#000"><path d="M565.6 973.6L568.6 976.6L565.6 979.6L562.6 976.6Z"/><path d="M579.2 973.6L582.2 976.6L579.2 979.6L576.2 976.6Z"/></g><text x="589.6" y="980" font-size="10.3" fill="#000" textLength="55.68" lengthAdjust="spacingAndGlyphs">Simple Max</text><path d="M564.9 990.2H580.2" stroke="#000" stroke-width="1.0" stroke-dasharray="1 1.8"/><g fill="#000"><path d="M565.6 987.85L567.95 992.55L563.25 992.55Z"/><path d="M579.2 987.85L581.55 992.55L576.85 992.55Z"/></g><text x="589.6" y="993.6" font-size="10.3" fill="#000" textLength="83.93" lengthAdjust="spacingAndGlyphs">Allometric Radius</text><path d="M564.9 1003.8H580.2" stroke="#000" stroke-width="1.0" stroke-dasharray="1 1.8"/><g fill="#000"><path d="M565.6 1006.15L567.95 1001.45L563.25 1001.45Z"/><path d="M579.2 1006.15L581.55 1001.45L576.85 1001.45Z"/></g><text x="589.6" y="1007.2" font-size="10.3" fill="#000" textLength="48.69" lengthAdjust="spacingAndGlyphs">Allometric</text></g>
<text x="282.3" y="1052" class="serif" font-size="20.5" fill="#000" textLength="153" lengthAdjust="spacingAndGlyphs">Transmittance (%)</text>
<text transform="translate(14.8 557.5) rotate(-90)" class="serif" font-size="21" fill="#000" textLength="90.3" lengthAdjust="spacingAndGlyphs">Proportion</text>
</svg></div></body></html>
